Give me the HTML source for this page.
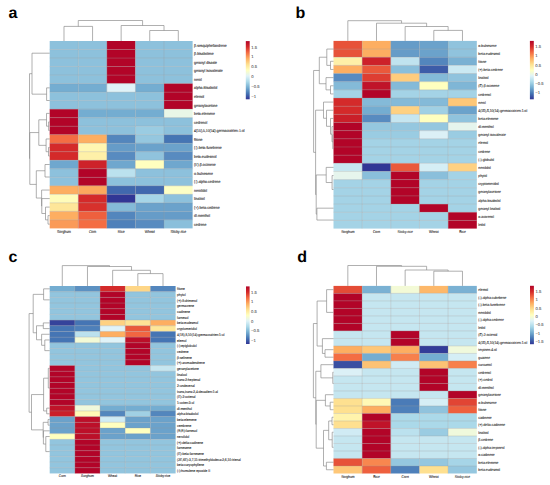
<!DOCTYPE html>
<html><head><meta charset="utf-8"><style>
html,body{margin:0;padding:0;background:#fff;}
svg{display:block;font-family:"Liberation Sans",sans-serif;}
</style></head><body>
<svg width="550" height="485" viewBox="0 0 550 485" font-family="'Liberation Sans', sans-serif" text-rendering="geometricPrecision">
<rect width="550" height="485" fill="#fff"/>
<rect x="49.70" y="41.00" width="28.58" height="8.52" fill="#8DC1DC"/>
<rect x="78.28" y="41.00" width="28.58" height="8.52" fill="#8DC1DC"/>
<rect x="106.86" y="41.00" width="28.58" height="8.52" fill="#B20428"/>
<rect x="135.44" y="41.00" width="28.58" height="8.52" fill="#8DC1DC"/>
<rect x="164.02" y="41.00" width="28.58" height="8.52" fill="#8DC1DC"/>
<rect x="49.70" y="49.52" width="28.58" height="8.52" fill="#8DC1DC"/>
<rect x="78.28" y="49.52" width="28.58" height="8.52" fill="#8DC1DC"/>
<rect x="106.86" y="49.52" width="28.58" height="8.52" fill="#B20428"/>
<rect x="135.44" y="49.52" width="28.58" height="8.52" fill="#8DC1DC"/>
<rect x="164.02" y="49.52" width="28.58" height="8.52" fill="#8DC1DC"/>
<rect x="49.70" y="58.04" width="28.58" height="8.52" fill="#8DC1DC"/>
<rect x="78.28" y="58.04" width="28.58" height="8.52" fill="#8DC1DC"/>
<rect x="106.86" y="58.04" width="28.58" height="8.52" fill="#B20428"/>
<rect x="135.44" y="58.04" width="28.58" height="8.52" fill="#8DC1DC"/>
<rect x="164.02" y="58.04" width="28.58" height="8.52" fill="#8DC1DC"/>
<rect x="49.70" y="66.55" width="28.58" height="8.52" fill="#8DC1DC"/>
<rect x="78.28" y="66.55" width="28.58" height="8.52" fill="#8DC1DC"/>
<rect x="106.86" y="66.55" width="28.58" height="8.52" fill="#B20428"/>
<rect x="135.44" y="66.55" width="28.58" height="8.52" fill="#8DC1DC"/>
<rect x="164.02" y="66.55" width="28.58" height="8.52" fill="#8DC1DC"/>
<rect x="49.70" y="75.07" width="28.58" height="8.52" fill="#8DC1DC"/>
<rect x="78.28" y="75.07" width="28.58" height="8.52" fill="#8DC1DC"/>
<rect x="106.86" y="75.07" width="28.58" height="8.52" fill="#B20428"/>
<rect x="135.44" y="75.07" width="28.58" height="8.52" fill="#8DC1DC"/>
<rect x="164.02" y="75.07" width="28.58" height="8.52" fill="#8DC1DC"/>
<rect x="49.70" y="83.59" width="28.58" height="8.52" fill="#74ADD1"/>
<rect x="78.28" y="83.59" width="28.58" height="8.52" fill="#74ADD1"/>
<rect x="106.86" y="83.59" width="28.58" height="8.52" fill="#E0F3F8"/>
<rect x="135.44" y="83.59" width="28.58" height="8.52" fill="#74ADD1"/>
<rect x="164.02" y="83.59" width="28.58" height="8.52" fill="#B20428"/>
<rect x="49.70" y="92.11" width="28.58" height="8.52" fill="#8DC1DC"/>
<rect x="78.28" y="92.11" width="28.58" height="8.52" fill="#8DC1DC"/>
<rect x="106.86" y="92.11" width="28.58" height="8.52" fill="#8DC1DC"/>
<rect x="135.44" y="92.11" width="28.58" height="8.52" fill="#8DC1DC"/>
<rect x="164.02" y="92.11" width="28.58" height="8.52" fill="#B20428"/>
<rect x="49.70" y="100.63" width="28.58" height="8.52" fill="#8DC1DC"/>
<rect x="78.28" y="100.63" width="28.58" height="8.52" fill="#8DC1DC"/>
<rect x="106.86" y="100.63" width="28.58" height="8.52" fill="#8DC1DC"/>
<rect x="135.44" y="100.63" width="28.58" height="8.52" fill="#8DC1DC"/>
<rect x="164.02" y="100.63" width="28.58" height="8.52" fill="#B20428"/>
<rect x="49.70" y="109.14" width="28.58" height="8.52" fill="#B20428"/>
<rect x="78.28" y="109.14" width="28.58" height="8.52" fill="#74ADD1"/>
<rect x="106.86" y="109.14" width="28.58" height="8.52" fill="#74ADD1"/>
<rect x="135.44" y="109.14" width="28.58" height="8.52" fill="#74ADD1"/>
<rect x="164.02" y="109.14" width="28.58" height="8.52" fill="#E9F7E7"/>
<rect x="49.70" y="117.66" width="28.58" height="8.52" fill="#B20428"/>
<rect x="78.28" y="117.66" width="28.58" height="8.52" fill="#8DC1DC"/>
<rect x="106.86" y="117.66" width="28.58" height="8.52" fill="#8DC1DC"/>
<rect x="135.44" y="117.66" width="28.58" height="8.52" fill="#8DC1DC"/>
<rect x="164.02" y="117.66" width="28.58" height="8.52" fill="#8DC1DC"/>
<rect x="49.70" y="126.18" width="28.58" height="8.52" fill="#B20428"/>
<rect x="78.28" y="126.18" width="28.58" height="8.52" fill="#8DC1DC"/>
<rect x="106.86" y="126.18" width="28.58" height="8.52" fill="#8DC1DC"/>
<rect x="135.44" y="126.18" width="28.58" height="8.52" fill="#9ACCE2"/>
<rect x="164.02" y="126.18" width="28.58" height="8.52" fill="#8DC1DC"/>
<rect x="49.70" y="134.70" width="28.58" height="8.52" fill="#F46D43"/>
<rect x="78.28" y="134.70" width="28.58" height="8.52" fill="#FDAE61"/>
<rect x="106.86" y="134.70" width="28.58" height="8.52" fill="#5386BD"/>
<rect x="135.44" y="134.70" width="28.58" height="8.52" fill="#95C7DF"/>
<rect x="164.02" y="134.70" width="28.58" height="8.52" fill="#4575B4"/>
<rect x="49.70" y="143.22" width="28.58" height="8.52" fill="#D42A2A"/>
<rect x="78.28" y="143.22" width="28.58" height="8.52" fill="#FFF6B1"/>
<rect x="106.86" y="143.22" width="28.58" height="8.52" fill="#669CC8"/>
<rect x="135.44" y="143.22" width="28.58" height="8.52" fill="#6BA2CB"/>
<rect x="164.02" y="143.22" width="28.58" height="8.52" fill="#6BA2CB"/>
<rect x="49.70" y="151.73" width="28.58" height="8.52" fill="#D42A2A"/>
<rect x="78.28" y="151.73" width="28.58" height="8.52" fill="#FEF0A8"/>
<rect x="106.86" y="151.73" width="28.58" height="8.52" fill="#588BC0"/>
<rect x="135.44" y="151.73" width="28.58" height="8.52" fill="#90C3DD"/>
<rect x="164.02" y="151.73" width="28.58" height="8.52" fill="#588BC0"/>
<rect x="49.70" y="160.25" width="28.58" height="8.52" fill="#6FA7CE"/>
<rect x="78.28" y="160.25" width="28.58" height="8.52" fill="#CD222A"/>
<rect x="106.86" y="160.25" width="28.58" height="8.52" fill="#6FA7CE"/>
<rect x="135.44" y="160.25" width="28.58" height="8.52" fill="#FFFFBF"/>
<rect x="164.02" y="160.25" width="28.58" height="8.52" fill="#6FA7CE"/>
<rect x="49.70" y="168.77" width="28.58" height="8.52" fill="#8DC1DC"/>
<rect x="78.28" y="168.77" width="28.58" height="8.52" fill="#B20428"/>
<rect x="106.86" y="168.77" width="28.58" height="8.52" fill="#BBE1EE"/>
<rect x="135.44" y="168.77" width="28.58" height="8.52" fill="#8DC1DC"/>
<rect x="164.02" y="168.77" width="28.58" height="8.52" fill="#8DC1DC"/>
<rect x="49.70" y="177.29" width="28.58" height="8.52" fill="#8DC1DC"/>
<rect x="78.28" y="177.29" width="28.58" height="8.52" fill="#B20428"/>
<rect x="106.86" y="177.29" width="28.58" height="8.52" fill="#8DC1DC"/>
<rect x="135.44" y="177.29" width="28.58" height="8.52" fill="#8DC1DC"/>
<rect x="164.02" y="177.29" width="28.58" height="8.52" fill="#8DC1DC"/>
<rect x="49.70" y="185.81" width="28.58" height="8.52" fill="#FDAE61"/>
<rect x="78.28" y="185.81" width="28.58" height="8.52" fill="#FCA85E"/>
<rect x="106.86" y="185.81" width="28.58" height="8.52" fill="#4168AE"/>
<rect x="135.44" y="185.81" width="28.58" height="8.52" fill="#4168AE"/>
<rect x="164.02" y="185.81" width="28.58" height="8.52" fill="#FCFEC5"/>
<rect x="49.70" y="194.32" width="28.58" height="8.52" fill="#FFFCBA"/>
<rect x="78.28" y="194.32" width="28.58" height="8.52" fill="#D42A2A"/>
<rect x="106.86" y="194.32" width="28.58" height="8.52" fill="#313695"/>
<rect x="135.44" y="194.32" width="28.58" height="8.52" fill="#A6D5E7"/>
<rect x="164.02" y="194.32" width="28.58" height="8.52" fill="#8DC1DC"/>
<rect x="49.70" y="202.84" width="28.58" height="8.52" fill="#FEE699"/>
<rect x="78.28" y="202.84" width="28.58" height="8.52" fill="#D7312C"/>
<rect x="106.86" y="202.84" width="28.58" height="8.52" fill="#84BAD8"/>
<rect x="135.44" y="202.84" width="28.58" height="8.52" fill="#6BA2CB"/>
<rect x="164.02" y="202.84" width="28.58" height="8.52" fill="#6BA2CB"/>
<rect x="49.70" y="211.36" width="28.58" height="8.52" fill="#FDAE61"/>
<rect x="78.28" y="211.36" width="28.58" height="8.52" fill="#EE603E"/>
<rect x="106.86" y="211.36" width="28.58" height="8.52" fill="#5386BD"/>
<rect x="135.44" y="211.36" width="28.58" height="8.52" fill="#669CC8"/>
<rect x="164.02" y="211.36" width="28.58" height="8.52" fill="#669CC8"/>
<rect x="49.70" y="219.88" width="28.58" height="8.52" fill="#FA9A58"/>
<rect x="78.28" y="219.88" width="28.58" height="8.52" fill="#F46D43"/>
<rect x="106.86" y="219.88" width="28.58" height="8.52" fill="#4E80BA"/>
<rect x="135.44" y="219.88" width="28.58" height="8.52" fill="#588BC0"/>
<rect x="164.02" y="219.88" width="28.58" height="8.52" fill="#8ABFDB"/>
<line x1="49.70" y1="49.52" x2="192.60" y2="49.52" stroke="#9a9a9a" stroke-width="0.3"/>
<line x1="49.70" y1="58.04" x2="192.60" y2="58.04" stroke="#9a9a9a" stroke-width="0.3"/>
<line x1="49.70" y1="66.55" x2="192.60" y2="66.55" stroke="#9a9a9a" stroke-width="0.3"/>
<line x1="49.70" y1="75.07" x2="192.60" y2="75.07" stroke="#9a9a9a" stroke-width="0.3"/>
<line x1="49.70" y1="83.59" x2="192.60" y2="83.59" stroke="#9a9a9a" stroke-width="0.3"/>
<line x1="49.70" y1="92.11" x2="192.60" y2="92.11" stroke="#9a9a9a" stroke-width="0.3"/>
<line x1="49.70" y1="100.63" x2="192.60" y2="100.63" stroke="#9a9a9a" stroke-width="0.3"/>
<line x1="49.70" y1="109.14" x2="192.60" y2="109.14" stroke="#9a9a9a" stroke-width="0.3"/>
<line x1="49.70" y1="117.66" x2="192.60" y2="117.66" stroke="#9a9a9a" stroke-width="0.3"/>
<line x1="49.70" y1="126.18" x2="192.60" y2="126.18" stroke="#9a9a9a" stroke-width="0.3"/>
<line x1="49.70" y1="134.70" x2="192.60" y2="134.70" stroke="#9a9a9a" stroke-width="0.3"/>
<line x1="49.70" y1="143.22" x2="192.60" y2="143.22" stroke="#9a9a9a" stroke-width="0.3"/>
<line x1="49.70" y1="151.73" x2="192.60" y2="151.73" stroke="#9a9a9a" stroke-width="0.3"/>
<line x1="49.70" y1="160.25" x2="192.60" y2="160.25" stroke="#9a9a9a" stroke-width="0.3"/>
<line x1="49.70" y1="168.77" x2="192.60" y2="168.77" stroke="#9a9a9a" stroke-width="0.3"/>
<line x1="49.70" y1="177.29" x2="192.60" y2="177.29" stroke="#9a9a9a" stroke-width="0.3"/>
<line x1="49.70" y1="185.81" x2="192.60" y2="185.81" stroke="#9a9a9a" stroke-width="0.3"/>
<line x1="49.70" y1="194.32" x2="192.60" y2="194.32" stroke="#9a9a9a" stroke-width="0.3"/>
<line x1="49.70" y1="202.84" x2="192.60" y2="202.84" stroke="#9a9a9a" stroke-width="0.3"/>
<line x1="49.70" y1="211.36" x2="192.60" y2="211.36" stroke="#9a9a9a" stroke-width="0.3"/>
<line x1="49.70" y1="219.88" x2="192.60" y2="219.88" stroke="#9a9a9a" stroke-width="0.3"/>
<line x1="78.28" y1="41.00" x2="78.28" y2="228.40" stroke="#9a9a9a" stroke-width="0.3"/>
<line x1="106.86" y1="41.00" x2="106.86" y2="228.40" stroke="#9a9a9a" stroke-width="0.3"/>
<line x1="135.44" y1="41.00" x2="135.44" y2="228.40" stroke="#9a9a9a" stroke-width="0.3"/>
<line x1="164.02" y1="41.00" x2="164.02" y2="228.40" stroke="#9a9a9a" stroke-width="0.3"/>
<text transform="translate(194.10,46.89) scale(0.85,1)" font-size="4.000" text-anchor="start" font-weight="normal" fill="#2e2e2e" stroke="#2e2e2e" stroke-width="0.11">β-sesquiphellandrene</text>
<text transform="translate(194.10,55.41) scale(0.85,1)" font-size="4.000" text-anchor="start" font-weight="normal" fill="#2e2e2e" stroke="#2e2e2e" stroke-width="0.11">β-bisabolene</text>
<text transform="translate(194.10,63.92) scale(0.85,1)" font-size="4.000" text-anchor="start" font-weight="normal" fill="#2e2e2e" stroke="#2e2e2e" stroke-width="0.11">geranyl disaste</text>
<text transform="translate(194.10,72.44) scale(0.85,1)" font-size="4.000" text-anchor="start" font-weight="normal" fill="#2e2e2e" stroke="#2e2e2e" stroke-width="0.11">geranyl isovalerate</text>
<text transform="translate(194.10,80.96) scale(0.85,1)" font-size="4.000" text-anchor="start" font-weight="normal" fill="#2e2e2e" stroke="#2e2e2e" stroke-width="0.11">nerol</text>
<text transform="translate(194.10,89.48) scale(0.85,1)" font-size="4.000" text-anchor="start" font-weight="normal" fill="#2e2e2e" stroke="#2e2e2e" stroke-width="0.11">alpha-Bisabolol</text>
<text transform="translate(194.10,98.00) scale(0.85,1)" font-size="4.000" text-anchor="start" font-weight="normal" fill="#2e2e2e" stroke="#2e2e2e" stroke-width="0.11">elemol</text>
<text transform="translate(194.10,106.51) scale(0.85,1)" font-size="4.000" text-anchor="start" font-weight="normal" fill="#2e2e2e" stroke="#2e2e2e" stroke-width="0.11">geranylacetone</text>
<text transform="translate(194.10,115.03) scale(0.85,1)" font-size="4.000" text-anchor="start" font-weight="normal" fill="#2e2e2e" stroke="#2e2e2e" stroke-width="0.11">beta-elemene</text>
<text transform="translate(194.10,123.55) scale(0.85,1)" font-size="4.000" text-anchor="start" font-weight="normal" fill="#2e2e2e" stroke="#2e2e2e" stroke-width="0.11">cedrenol</text>
<text transform="translate(194.10,132.07) scale(0.85,1)" font-size="4.000" text-anchor="start" font-weight="normal" fill="#2e2e2e" stroke="#2e2e2e" stroke-width="0.11">4(15),5,10(14)-germacratrien-1-ol</text>
<text transform="translate(194.10,140.58) scale(0.85,1)" font-size="4.000" text-anchor="start" font-weight="normal" fill="#2e2e2e" stroke="#2e2e2e" stroke-width="0.11">fitone</text>
<text transform="translate(194.10,149.10) scale(0.85,1)" font-size="4.000" text-anchor="start" font-weight="normal" fill="#2e2e2e" stroke="#2e2e2e" stroke-width="0.11">(-)-beta-funebrene</text>
<text transform="translate(194.10,157.62) scale(0.85,1)" font-size="4.000" text-anchor="start" font-weight="normal" fill="#2e2e2e" stroke="#2e2e2e" stroke-width="0.11">beta-eudesmol</text>
<text transform="translate(194.10,166.14) scale(0.85,1)" font-size="4.000" text-anchor="start" font-weight="normal" fill="#2e2e2e" stroke="#2e2e2e" stroke-width="0.11">(E)-β-ocimene</text>
<text transform="translate(194.10,174.66) scale(0.85,1)" font-size="4.000" text-anchor="start" font-weight="normal" fill="#2e2e2e" stroke="#2e2e2e" stroke-width="0.11">α-bulnesene</text>
<text transform="translate(194.10,183.18) scale(0.85,1)" font-size="4.000" text-anchor="start" font-weight="normal" fill="#2e2e2e" stroke="#2e2e2e" stroke-width="0.11">(-)-alpha-cedrene</text>
<text transform="translate(194.10,191.69) scale(0.85,1)" font-size="4.000" text-anchor="start" font-weight="normal" fill="#2e2e2e" stroke="#2e2e2e" stroke-width="0.11">nerolidol</text>
<text transform="translate(194.10,200.21) scale(0.85,1)" font-size="4.000" text-anchor="start" font-weight="normal" fill="#2e2e2e" stroke="#2e2e2e" stroke-width="0.11">linalool</text>
<text transform="translate(194.10,208.73) scale(0.85,1)" font-size="4.000" text-anchor="start" font-weight="normal" fill="#2e2e2e" stroke="#2e2e2e" stroke-width="0.11">(+)-beta-cedrene</text>
<text transform="translate(194.10,217.25) scale(0.85,1)" font-size="4.000" text-anchor="start" font-weight="normal" fill="#2e2e2e" stroke="#2e2e2e" stroke-width="0.11">dl-menthol</text>
<text transform="translate(194.10,225.76) scale(0.85,1)" font-size="4.000" text-anchor="start" font-weight="normal" fill="#2e2e2e" stroke="#2e2e2e" stroke-width="0.11">cedrene</text>
<text transform="translate(63.99,232.50) scale(0.85,1)" font-size="4.000" text-anchor="middle" font-weight="normal" fill="#2e2e2e" stroke="#2e2e2e" stroke-width="0.11">Sorghum</text>
<text transform="translate(92.57,232.50) scale(0.85,1)" font-size="4.000" text-anchor="middle" font-weight="normal" fill="#2e2e2e" stroke="#2e2e2e" stroke-width="0.11">Corn</text>
<text transform="translate(121.15,232.50) scale(0.85,1)" font-size="4.000" text-anchor="middle" font-weight="normal" fill="#2e2e2e" stroke="#2e2e2e" stroke-width="0.11">Rice</text>
<text transform="translate(149.73,232.50) scale(0.85,1)" font-size="4.000" text-anchor="middle" font-weight="normal" fill="#2e2e2e" stroke="#2e2e2e" stroke-width="0.11">Wheat</text>
<text transform="translate(178.31,232.50) scale(0.85,1)" font-size="4.000" text-anchor="middle" font-weight="normal" fill="#2e2e2e" stroke="#2e2e2e" stroke-width="0.11">Sticky-rice</text>
<defs><linearGradient id="ga" x1="0" y1="0" x2="0" y2="1"><stop offset="0.00" stop-color="#B20428"/><stop offset="0.10" stop-color="#D42A2A"/><stop offset="0.20" stop-color="#F46D43"/><stop offset="0.30" stop-color="#FDAE61"/><stop offset="0.40" stop-color="#FEE090"/><stop offset="0.50" stop-color="#FFFFBF"/><stop offset="0.60" stop-color="#E0F3F8"/><stop offset="0.70" stop-color="#ABD9E9"/><stop offset="0.80" stop-color="#74ADD1"/><stop offset="0.90" stop-color="#4575B4"/><stop offset="1.00" stop-color="#313695"/></linearGradient></defs>
<rect x="245.8" y="41.1" width="3.9" height="58.199999999999996" fill="url(#ga)"/>
<text x="251.20" y="48.67" font-size="4.2" text-anchor="start" font-weight="normal" fill="#4a4a4a" stroke="#4a4a4a" stroke-width="0.06">1.5</text>
<text x="251.20" y="58.49" font-size="4.2" text-anchor="start" font-weight="normal" fill="#4a4a4a" stroke="#4a4a4a" stroke-width="0.06">1</text>
<text x="251.20" y="68.31" font-size="4.2" text-anchor="start" font-weight="normal" fill="#4a4a4a" stroke="#4a4a4a" stroke-width="0.06">0.5</text>
<text x="251.20" y="78.13" font-size="4.2" text-anchor="start" font-weight="normal" fill="#4a4a4a" stroke="#4a4a4a" stroke-width="0.06">0</text>
<text x="251.20" y="87.95" font-size="4.2" text-anchor="start" font-weight="normal" fill="#4a4a4a" stroke="#4a4a4a" stroke-width="0.06">−0.5</text>
<text x="251.20" y="97.76" font-size="4.2" text-anchor="start" font-weight="normal" fill="#4a4a4a" stroke="#4a4a4a" stroke-width="0.06">−1</text>
<text x="8.40" y="18.10" font-size="16" text-anchor="start" font-weight="bold" fill="#000">a</text>
<line x1="63.99" y1="26.40" x2="63.99" y2="41.00" stroke="#858585" stroke-width="0.65"/>
<line x1="92.57" y1="26.40" x2="92.57" y2="41.00" stroke="#858585" stroke-width="0.65"/>
<line x1="63.99" y1="26.40" x2="92.57" y2="26.40" stroke="#858585" stroke-width="0.65"/>
<line x1="149.73" y1="30.50" x2="149.73" y2="41.00" stroke="#858585" stroke-width="0.65"/>
<line x1="178.31" y1="30.50" x2="178.31" y2="41.00" stroke="#858585" stroke-width="0.65"/>
<line x1="149.73" y1="30.50" x2="178.31" y2="30.50" stroke="#858585" stroke-width="0.65"/>
<line x1="121.15" y1="25.50" x2="121.15" y2="41.00" stroke="#858585" stroke-width="0.65"/>
<line x1="164.02" y1="25.50" x2="164.02" y2="30.50" stroke="#858585" stroke-width="0.65"/>
<line x1="121.15" y1="25.50" x2="164.02" y2="25.50" stroke="#858585" stroke-width="0.65"/>
<line x1="78.28" y1="20.50" x2="78.28" y2="26.40" stroke="#858585" stroke-width="0.65"/>
<line x1="142.59" y1="20.50" x2="142.59" y2="25.50" stroke="#858585" stroke-width="0.65"/>
<line x1="78.28" y1="20.50" x2="142.59" y2="20.50" stroke="#858585" stroke-width="0.65"/>
<line x1="46.60" y1="87.85" x2="49.70" y2="87.85" stroke="#858585" stroke-width="0.65"/>
<line x1="46.60" y1="100.50" x2="49.70" y2="100.50" stroke="#858585" stroke-width="0.65"/>
<line x1="46.60" y1="87.85" x2="46.60" y2="100.50" stroke="#858585" stroke-width="0.65"/>
<line x1="32.00" y1="53.20" x2="49.70" y2="53.20" stroke="#858585" stroke-width="0.65"/>
<line x1="32.00" y1="94.17" x2="46.60" y2="94.17" stroke="#858585" stroke-width="0.65"/>
<line x1="32.00" y1="53.20" x2="32.00" y2="94.17" stroke="#858585" stroke-width="0.65"/>
<line x1="48.60" y1="121.92" x2="49.70" y2="121.92" stroke="#858585" stroke-width="0.65"/>
<line x1="48.60" y1="130.44" x2="49.70" y2="130.44" stroke="#858585" stroke-width="0.65"/>
<line x1="48.60" y1="121.92" x2="48.60" y2="130.44" stroke="#858585" stroke-width="0.65"/>
<line x1="46.50" y1="113.40" x2="49.70" y2="113.40" stroke="#858585" stroke-width="0.65"/>
<line x1="46.50" y1="126.18" x2="48.60" y2="126.18" stroke="#858585" stroke-width="0.65"/>
<line x1="46.50" y1="113.40" x2="46.50" y2="126.18" stroke="#858585" stroke-width="0.65"/>
<line x1="48.50" y1="147.48" x2="49.70" y2="147.48" stroke="#858585" stroke-width="0.65"/>
<line x1="48.50" y1="155.99" x2="49.70" y2="155.99" stroke="#858585" stroke-width="0.65"/>
<line x1="48.50" y1="147.48" x2="48.50" y2="155.99" stroke="#858585" stroke-width="0.65"/>
<line x1="46.10" y1="138.96" x2="49.70" y2="138.96" stroke="#858585" stroke-width="0.65"/>
<line x1="46.10" y1="151.73" x2="48.50" y2="151.73" stroke="#858585" stroke-width="0.65"/>
<line x1="46.10" y1="138.96" x2="46.10" y2="151.73" stroke="#858585" stroke-width="0.65"/>
<line x1="38.80" y1="119.79" x2="46.50" y2="119.79" stroke="#858585" stroke-width="0.65"/>
<line x1="38.80" y1="145.35" x2="46.10" y2="145.35" stroke="#858585" stroke-width="0.65"/>
<line x1="38.80" y1="119.79" x2="38.80" y2="145.35" stroke="#858585" stroke-width="0.65"/>
<line x1="45.00" y1="164.51" x2="49.70" y2="164.51" stroke="#858585" stroke-width="0.65"/>
<line x1="45.00" y1="177.00" x2="49.70" y2="177.00" stroke="#858585" stroke-width="0.65"/>
<line x1="45.00" y1="164.51" x2="45.00" y2="177.00" stroke="#858585" stroke-width="0.65"/>
<line x1="48.00" y1="215.62" x2="49.70" y2="215.62" stroke="#858585" stroke-width="0.65"/>
<line x1="48.00" y1="224.14" x2="49.70" y2="224.14" stroke="#858585" stroke-width="0.65"/>
<line x1="48.00" y1="215.62" x2="48.00" y2="224.14" stroke="#858585" stroke-width="0.65"/>
<line x1="45.50" y1="207.10" x2="49.70" y2="207.10" stroke="#858585" stroke-width="0.65"/>
<line x1="45.50" y1="219.88" x2="48.00" y2="219.88" stroke="#858585" stroke-width="0.65"/>
<line x1="45.50" y1="207.10" x2="45.50" y2="219.88" stroke="#858585" stroke-width="0.65"/>
<line x1="41.80" y1="198.58" x2="49.70" y2="198.58" stroke="#858585" stroke-width="0.65"/>
<line x1="41.80" y1="213.49" x2="45.50" y2="213.49" stroke="#858585" stroke-width="0.65"/>
<line x1="41.80" y1="198.58" x2="41.80" y2="213.49" stroke="#858585" stroke-width="0.65"/>
<line x1="41.60" y1="190.06" x2="49.70" y2="190.06" stroke="#858585" stroke-width="0.65"/>
<line x1="41.60" y1="206.04" x2="41.80" y2="206.04" stroke="#858585" stroke-width="0.65"/>
<line x1="41.60" y1="190.06" x2="41.60" y2="206.04" stroke="#858585" stroke-width="0.65"/>
<line x1="36.30" y1="170.76" x2="45.00" y2="170.76" stroke="#858585" stroke-width="0.65"/>
<line x1="36.30" y1="198.05" x2="41.60" y2="198.05" stroke="#858585" stroke-width="0.65"/>
<line x1="36.30" y1="170.76" x2="36.30" y2="198.05" stroke="#858585" stroke-width="0.65"/>
<line x1="29.80" y1="132.57" x2="38.80" y2="132.57" stroke="#858585" stroke-width="0.65"/>
<line x1="29.80" y1="184.40" x2="36.30" y2="184.40" stroke="#858585" stroke-width="0.65"/>
<line x1="29.80" y1="132.57" x2="29.80" y2="184.40" stroke="#858585" stroke-width="0.65"/>
<line x1="29.50" y1="73.69" x2="32.00" y2="73.69" stroke="#858585" stroke-width="0.65"/>
<line x1="29.50" y1="158.49" x2="29.80" y2="158.49" stroke="#858585" stroke-width="0.65"/>
<line x1="29.50" y1="73.69" x2="29.50" y2="158.49" stroke="#858585" stroke-width="0.65"/>
<rect x="333.50" y="40.90" width="28.66" height="8.16" fill="#E75239"/>
<rect x="362.16" y="40.90" width="28.66" height="8.16" fill="#FDAE61"/>
<rect x="390.82" y="40.90" width="28.66" height="8.16" fill="#669CC8"/>
<rect x="419.48" y="40.90" width="28.66" height="8.16" fill="#6BA2CB"/>
<rect x="448.14" y="40.90" width="28.66" height="8.16" fill="#90C3DD"/>
<rect x="333.50" y="49.06" width="28.66" height="8.16" fill="#E75239"/>
<rect x="362.16" y="49.06" width="28.66" height="8.16" fill="#FDAE61"/>
<rect x="390.82" y="49.06" width="28.66" height="8.16" fill="#669CC8"/>
<rect x="419.48" y="49.06" width="28.66" height="8.16" fill="#6BA2CB"/>
<rect x="448.14" y="49.06" width="28.66" height="8.16" fill="#90C3DD"/>
<rect x="333.50" y="57.22" width="28.66" height="8.16" fill="#FEF0A8"/>
<rect x="362.16" y="57.22" width="28.66" height="8.16" fill="#CD222A"/>
<rect x="390.82" y="57.22" width="28.66" height="8.16" fill="#C0E3EF"/>
<rect x="419.48" y="57.22" width="28.66" height="8.16" fill="#5386BD"/>
<rect x="448.14" y="57.22" width="28.66" height="8.16" fill="#7AB1D3"/>
<rect x="333.50" y="65.38" width="28.66" height="8.16" fill="#FDAE61"/>
<rect x="362.16" y="65.38" width="28.66" height="8.16" fill="#EA593B"/>
<rect x="390.82" y="65.38" width="28.66" height="8.16" fill="#8ABFDB"/>
<rect x="419.48" y="65.38" width="28.66" height="8.16" fill="#3D5CA8"/>
<rect x="448.14" y="65.38" width="28.66" height="8.16" fill="#CBE9F2"/>
<rect x="333.50" y="73.54" width="28.66" height="8.16" fill="#588BC0"/>
<rect x="362.16" y="73.54" width="28.66" height="8.16" fill="#DE3E32"/>
<rect x="390.82" y="73.54" width="28.66" height="8.16" fill="#FECC7D"/>
<rect x="419.48" y="73.54" width="28.66" height="8.16" fill="#84BAD8"/>
<rect x="448.14" y="73.54" width="28.66" height="8.16" fill="#90C3DD"/>
<rect x="333.50" y="81.70" width="28.66" height="8.16" fill="#84BAD8"/>
<rect x="362.16" y="81.70" width="28.66" height="8.16" fill="#C01329"/>
<rect x="390.82" y="81.70" width="28.66" height="8.16" fill="#84BAD8"/>
<rect x="419.48" y="81.70" width="28.66" height="8.16" fill="#FFFFBF"/>
<rect x="448.14" y="81.70" width="28.66" height="8.16" fill="#7FB6D6"/>
<rect x="333.50" y="89.86" width="28.66" height="8.16" fill="#A4D3E6"/>
<rect x="362.16" y="89.86" width="28.66" height="8.16" fill="#B20428"/>
<rect x="390.82" y="89.86" width="28.66" height="8.16" fill="#A4D3E6"/>
<rect x="419.48" y="89.86" width="28.66" height="8.16" fill="#A4D3E6"/>
<rect x="448.14" y="89.86" width="28.66" height="8.16" fill="#A4D3E6"/>
<rect x="333.50" y="98.02" width="28.66" height="8.16" fill="#D42A2A"/>
<rect x="362.16" y="98.02" width="28.66" height="8.16" fill="#84BAD8"/>
<rect x="390.82" y="98.02" width="28.66" height="8.16" fill="#84BAD8"/>
<rect x="419.48" y="98.02" width="28.66" height="8.16" fill="#84BAD8"/>
<rect x="448.14" y="98.02" width="28.66" height="8.16" fill="#FEC778"/>
<rect x="333.50" y="106.18" width="28.66" height="8.16" fill="#D42A2A"/>
<rect x="362.16" y="106.18" width="28.66" height="8.16" fill="#74ADD1"/>
<rect x="390.82" y="106.18" width="28.66" height="8.16" fill="#FED182"/>
<rect x="419.48" y="106.18" width="28.66" height="8.16" fill="#A0D0E4"/>
<rect x="448.14" y="106.18" width="28.66" height="8.16" fill="#6BA2CB"/>
<rect x="333.50" y="114.34" width="28.66" height="8.16" fill="#CA1F29"/>
<rect x="362.16" y="114.34" width="28.66" height="8.16" fill="#588BC0"/>
<rect x="390.82" y="114.34" width="28.66" height="8.16" fill="#C6E6F0"/>
<rect x="419.48" y="114.34" width="28.66" height="8.16" fill="#FFFFBF"/>
<rect x="448.14" y="114.34" width="28.66" height="8.16" fill="#90C3DD"/>
<rect x="333.50" y="122.50" width="28.66" height="8.16" fill="#B20428"/>
<rect x="362.16" y="122.50" width="28.66" height="8.16" fill="#95C7DF"/>
<rect x="390.82" y="122.50" width="28.66" height="8.16" fill="#95C7DF"/>
<rect x="419.48" y="122.50" width="28.66" height="8.16" fill="#95C7DF"/>
<rect x="448.14" y="122.50" width="28.66" height="8.16" fill="#E6F5ED"/>
<rect x="333.50" y="130.66" width="28.66" height="8.16" fill="#B20428"/>
<rect x="362.16" y="130.66" width="28.66" height="8.16" fill="#9ACCE2"/>
<rect x="390.82" y="130.66" width="28.66" height="8.16" fill="#9ACCE2"/>
<rect x="419.48" y="130.66" width="28.66" height="8.16" fill="#DBF0F6"/>
<rect x="448.14" y="130.66" width="28.66" height="8.16" fill="#9ACCE2"/>
<rect x="333.50" y="138.82" width="28.66" height="8.16" fill="#B20428"/>
<rect x="362.16" y="138.82" width="28.66" height="8.16" fill="#A4D3E6"/>
<rect x="390.82" y="138.82" width="28.66" height="8.16" fill="#A4D3E6"/>
<rect x="419.48" y="138.82" width="28.66" height="8.16" fill="#A4D3E6"/>
<rect x="448.14" y="138.82" width="28.66" height="8.16" fill="#A4D3E6"/>
<rect x="333.50" y="146.98" width="28.66" height="8.16" fill="#B20428"/>
<rect x="362.16" y="146.98" width="28.66" height="8.16" fill="#A4D3E6"/>
<rect x="390.82" y="146.98" width="28.66" height="8.16" fill="#A4D3E6"/>
<rect x="419.48" y="146.98" width="28.66" height="8.16" fill="#A4D3E6"/>
<rect x="448.14" y="146.98" width="28.66" height="8.16" fill="#A4D3E6"/>
<rect x="333.50" y="155.14" width="28.66" height="8.16" fill="#B20428"/>
<rect x="362.16" y="155.14" width="28.66" height="8.16" fill="#A4D3E6"/>
<rect x="390.82" y="155.14" width="28.66" height="8.16" fill="#A4D3E6"/>
<rect x="419.48" y="155.14" width="28.66" height="8.16" fill="#A4D3E6"/>
<rect x="448.14" y="155.14" width="28.66" height="8.16" fill="#A4D3E6"/>
<rect x="333.50" y="163.30" width="28.66" height="8.16" fill="#C6E6F0"/>
<rect x="362.16" y="163.30" width="28.66" height="8.16" fill="#313695"/>
<rect x="390.82" y="163.30" width="28.66" height="8.16" fill="#EA593B"/>
<rect x="419.48" y="163.30" width="28.66" height="8.16" fill="#D5EEF5"/>
<rect x="448.14" y="163.30" width="28.66" height="8.16" fill="#FED182"/>
<rect x="333.50" y="171.46" width="28.66" height="8.16" fill="#E6F5ED"/>
<rect x="362.16" y="171.46" width="28.66" height="8.16" fill="#8ABFDB"/>
<rect x="390.82" y="171.46" width="28.66" height="8.16" fill="#B20428"/>
<rect x="419.48" y="171.46" width="28.66" height="8.16" fill="#8ABFDB"/>
<rect x="448.14" y="171.46" width="28.66" height="8.16" fill="#A4D3E6"/>
<rect x="333.50" y="179.62" width="28.66" height="8.16" fill="#A4D3E6"/>
<rect x="362.16" y="179.62" width="28.66" height="8.16" fill="#A4D3E6"/>
<rect x="390.82" y="179.62" width="28.66" height="8.16" fill="#B20428"/>
<rect x="419.48" y="179.62" width="28.66" height="8.16" fill="#A4D3E6"/>
<rect x="448.14" y="179.62" width="28.66" height="8.16" fill="#A4D3E6"/>
<rect x="333.50" y="187.78" width="28.66" height="8.16" fill="#A4D3E6"/>
<rect x="362.16" y="187.78" width="28.66" height="8.16" fill="#A4D3E6"/>
<rect x="390.82" y="187.78" width="28.66" height="8.16" fill="#B20428"/>
<rect x="419.48" y="187.78" width="28.66" height="8.16" fill="#A4D3E6"/>
<rect x="448.14" y="187.78" width="28.66" height="8.16" fill="#A4D3E6"/>
<rect x="333.50" y="195.94" width="28.66" height="8.16" fill="#A4D3E6"/>
<rect x="362.16" y="195.94" width="28.66" height="8.16" fill="#A4D3E6"/>
<rect x="390.82" y="195.94" width="28.66" height="8.16" fill="#B20428"/>
<rect x="419.48" y="195.94" width="28.66" height="8.16" fill="#A4D3E6"/>
<rect x="448.14" y="195.94" width="28.66" height="8.16" fill="#A4D3E6"/>
<rect x="333.50" y="204.10" width="28.66" height="8.16" fill="#A4D3E6"/>
<rect x="362.16" y="204.10" width="28.66" height="8.16" fill="#A4D3E6"/>
<rect x="390.82" y="204.10" width="28.66" height="8.16" fill="#A4D3E6"/>
<rect x="419.48" y="204.10" width="28.66" height="8.16" fill="#B20428"/>
<rect x="448.14" y="204.10" width="28.66" height="8.16" fill="#A4D3E6"/>
<rect x="333.50" y="212.26" width="28.66" height="8.16" fill="#A4D3E6"/>
<rect x="362.16" y="212.26" width="28.66" height="8.16" fill="#A4D3E6"/>
<rect x="390.82" y="212.26" width="28.66" height="8.16" fill="#A4D3E6"/>
<rect x="419.48" y="212.26" width="28.66" height="8.16" fill="#A4D3E6"/>
<rect x="448.14" y="212.26" width="28.66" height="8.16" fill="#B20428"/>
<rect x="333.50" y="220.42" width="28.66" height="8.16" fill="#A4D3E6"/>
<rect x="362.16" y="220.42" width="28.66" height="8.16" fill="#A4D3E6"/>
<rect x="390.82" y="220.42" width="28.66" height="8.16" fill="#A4D3E6"/>
<rect x="419.48" y="220.42" width="28.66" height="8.16" fill="#A4D3E6"/>
<rect x="448.14" y="220.42" width="28.66" height="8.16" fill="#B20428"/>
<line x1="333.50" y1="49.06" x2="476.80" y2="49.06" stroke="#9a9a9a" stroke-width="0.3"/>
<line x1="333.50" y1="57.22" x2="476.80" y2="57.22" stroke="#9a9a9a" stroke-width="0.3"/>
<line x1="333.50" y1="65.38" x2="476.80" y2="65.38" stroke="#9a9a9a" stroke-width="0.3"/>
<line x1="333.50" y1="73.54" x2="476.80" y2="73.54" stroke="#9a9a9a" stroke-width="0.3"/>
<line x1="333.50" y1="81.70" x2="476.80" y2="81.70" stroke="#9a9a9a" stroke-width="0.3"/>
<line x1="333.50" y1="89.86" x2="476.80" y2="89.86" stroke="#9a9a9a" stroke-width="0.3"/>
<line x1="333.50" y1="98.02" x2="476.80" y2="98.02" stroke="#9a9a9a" stroke-width="0.3"/>
<line x1="333.50" y1="106.18" x2="476.80" y2="106.18" stroke="#9a9a9a" stroke-width="0.3"/>
<line x1="333.50" y1="114.34" x2="476.80" y2="114.34" stroke="#9a9a9a" stroke-width="0.3"/>
<line x1="333.50" y1="122.50" x2="476.80" y2="122.50" stroke="#9a9a9a" stroke-width="0.3"/>
<line x1="333.50" y1="130.66" x2="476.80" y2="130.66" stroke="#9a9a9a" stroke-width="0.3"/>
<line x1="333.50" y1="138.82" x2="476.80" y2="138.82" stroke="#9a9a9a" stroke-width="0.3"/>
<line x1="333.50" y1="146.98" x2="476.80" y2="146.98" stroke="#9a9a9a" stroke-width="0.3"/>
<line x1="333.50" y1="155.14" x2="476.80" y2="155.14" stroke="#9a9a9a" stroke-width="0.3"/>
<line x1="333.50" y1="163.30" x2="476.80" y2="163.30" stroke="#9a9a9a" stroke-width="0.3"/>
<line x1="333.50" y1="171.46" x2="476.80" y2="171.46" stroke="#9a9a9a" stroke-width="0.3"/>
<line x1="333.50" y1="179.62" x2="476.80" y2="179.62" stroke="#9a9a9a" stroke-width="0.3"/>
<line x1="333.50" y1="187.78" x2="476.80" y2="187.78" stroke="#9a9a9a" stroke-width="0.3"/>
<line x1="333.50" y1="195.94" x2="476.80" y2="195.94" stroke="#9a9a9a" stroke-width="0.3"/>
<line x1="333.50" y1="204.10" x2="476.80" y2="204.10" stroke="#9a9a9a" stroke-width="0.3"/>
<line x1="333.50" y1="212.26" x2="476.80" y2="212.26" stroke="#9a9a9a" stroke-width="0.3"/>
<line x1="333.50" y1="220.42" x2="476.80" y2="220.42" stroke="#9a9a9a" stroke-width="0.3"/>
<line x1="362.16" y1="40.90" x2="362.16" y2="228.58" stroke="#9a9a9a" stroke-width="0.3"/>
<line x1="390.82" y1="40.90" x2="390.82" y2="228.58" stroke="#9a9a9a" stroke-width="0.3"/>
<line x1="419.48" y1="40.90" x2="419.48" y2="228.58" stroke="#9a9a9a" stroke-width="0.3"/>
<line x1="448.14" y1="40.90" x2="448.14" y2="228.58" stroke="#9a9a9a" stroke-width="0.3"/>
<text transform="translate(478.30,46.57) scale(0.85,1)" font-size="3.882" text-anchor="start" font-weight="normal" fill="#2e2e2e" stroke="#2e2e2e" stroke-width="0.11">α-bulnesene</text>
<text transform="translate(478.30,54.73) scale(0.85,1)" font-size="3.882" text-anchor="start" font-weight="normal" fill="#2e2e2e" stroke="#2e2e2e" stroke-width="0.11">beta-eudesmol</text>
<text transform="translate(478.30,62.89) scale(0.85,1)" font-size="3.882" text-anchor="start" font-weight="normal" fill="#2e2e2e" stroke="#2e2e2e" stroke-width="0.11">fitone</text>
<text transform="translate(478.30,71.05) scale(0.85,1)" font-size="3.882" text-anchor="start" font-weight="normal" fill="#2e2e2e" stroke="#2e2e2e" stroke-width="0.11">(+)-beta-cedrene</text>
<text transform="translate(478.30,79.21) scale(0.85,1)" font-size="3.882" text-anchor="start" font-weight="normal" fill="#2e2e2e" stroke="#2e2e2e" stroke-width="0.11">linalool</text>
<text transform="translate(478.30,87.37) scale(0.85,1)" font-size="3.882" text-anchor="start" font-weight="normal" fill="#2e2e2e" stroke="#2e2e2e" stroke-width="0.11">(E)-β-ocimene</text>
<text transform="translate(478.30,95.53) scale(0.85,1)" font-size="3.882" text-anchor="start" font-weight="normal" fill="#2e2e2e" stroke="#2e2e2e" stroke-width="0.11">cedrenol</text>
<text transform="translate(478.30,103.69) scale(0.85,1)" font-size="3.882" text-anchor="start" font-weight="normal" fill="#2e2e2e" stroke="#2e2e2e" stroke-width="0.11">nerol</text>
<text transform="translate(478.30,111.85) scale(0.85,1)" font-size="3.882" text-anchor="start" font-weight="normal" fill="#2e2e2e" stroke="#2e2e2e" stroke-width="0.11">4(15),5,10(14)-germacratrien-1-ol</text>
<text transform="translate(478.30,120.01) scale(0.85,1)" font-size="3.882" text-anchor="start" font-weight="normal" fill="#2e2e2e" stroke="#2e2e2e" stroke-width="0.11">beta-elemene</text>
<text transform="translate(478.30,128.17) scale(0.85,1)" font-size="3.882" text-anchor="start" font-weight="normal" fill="#2e2e2e" stroke="#2e2e2e" stroke-width="0.11">dl-menthol</text>
<text transform="translate(478.30,136.33) scale(0.85,1)" font-size="3.882" text-anchor="start" font-weight="normal" fill="#2e2e2e" stroke="#2e2e2e" stroke-width="0.11">geranyl isovalerate</text>
<text transform="translate(478.30,144.49) scale(0.85,1)" font-size="3.882" text-anchor="start" font-weight="normal" fill="#2e2e2e" stroke="#2e2e2e" stroke-width="0.11">elemol</text>
<text transform="translate(478.30,152.65) scale(0.85,1)" font-size="3.882" text-anchor="start" font-weight="normal" fill="#2e2e2e" stroke="#2e2e2e" stroke-width="0.11">cedrene</text>
<text transform="translate(478.30,160.81) scale(0.85,1)" font-size="3.882" text-anchor="start" font-weight="normal" fill="#2e2e2e" stroke="#2e2e2e" stroke-width="0.11">(-)-globulol</text>
<text transform="translate(478.30,168.97) scale(0.85,1)" font-size="3.882" text-anchor="start" font-weight="normal" fill="#2e2e2e" stroke="#2e2e2e" stroke-width="0.11">nerolidol</text>
<text transform="translate(478.30,177.13) scale(0.85,1)" font-size="3.882" text-anchor="start" font-weight="normal" fill="#2e2e2e" stroke="#2e2e2e" stroke-width="0.11">phytol</text>
<text transform="translate(478.30,185.29) scale(0.85,1)" font-size="3.882" text-anchor="start" font-weight="normal" fill="#2e2e2e" stroke="#2e2e2e" stroke-width="0.11">cryptomeridiol</text>
<text transform="translate(478.30,193.45) scale(0.85,1)" font-size="3.882" text-anchor="start" font-weight="normal" fill="#2e2e2e" stroke="#2e2e2e" stroke-width="0.11">geranylacetone</text>
<text transform="translate(478.30,201.61) scale(0.85,1)" font-size="3.882" text-anchor="start" font-weight="normal" fill="#2e2e2e" stroke="#2e2e2e" stroke-width="0.11">alpha-bisabolol</text>
<text transform="translate(478.30,209.77) scale(0.85,1)" font-size="3.882" text-anchor="start" font-weight="normal" fill="#2e2e2e" stroke="#2e2e2e" stroke-width="0.11">geranyl linalool</text>
<text transform="translate(478.30,217.93) scale(0.85,1)" font-size="3.882" text-anchor="start" font-weight="normal" fill="#2e2e2e" stroke="#2e2e2e" stroke-width="0.11">α-acorenol</text>
<text transform="translate(478.30,226.09) scale(0.85,1)" font-size="3.882" text-anchor="start" font-weight="normal" fill="#2e2e2e" stroke="#2e2e2e" stroke-width="0.11">ledol</text>
<text transform="translate(347.83,232.68) scale(0.85,1)" font-size="3.882" text-anchor="middle" font-weight="normal" fill="#2e2e2e" stroke="#2e2e2e" stroke-width="0.11">Sorghum</text>
<text transform="translate(376.49,232.68) scale(0.85,1)" font-size="3.882" text-anchor="middle" font-weight="normal" fill="#2e2e2e" stroke="#2e2e2e" stroke-width="0.11">Corn</text>
<text transform="translate(405.15,232.68) scale(0.85,1)" font-size="3.882" text-anchor="middle" font-weight="normal" fill="#2e2e2e" stroke="#2e2e2e" stroke-width="0.11">Sticky-rice</text>
<text transform="translate(433.81,232.68) scale(0.85,1)" font-size="3.882" text-anchor="middle" font-weight="normal" fill="#2e2e2e" stroke="#2e2e2e" stroke-width="0.11">Wheat</text>
<text transform="translate(462.47,232.68) scale(0.85,1)" font-size="3.882" text-anchor="middle" font-weight="normal" fill="#2e2e2e" stroke="#2e2e2e" stroke-width="0.11">Rice</text>
<defs><linearGradient id="gb" x1="0" y1="0" x2="0" y2="1"><stop offset="0.00" stop-color="#B20428"/><stop offset="0.10" stop-color="#D42A2A"/><stop offset="0.20" stop-color="#F46D43"/><stop offset="0.30" stop-color="#FDAE61"/><stop offset="0.40" stop-color="#FEE090"/><stop offset="0.50" stop-color="#FFFFBF"/><stop offset="0.60" stop-color="#E0F3F8"/><stop offset="0.70" stop-color="#ABD9E9"/><stop offset="0.80" stop-color="#74ADD1"/><stop offset="0.90" stop-color="#4575B4"/><stop offset="1.00" stop-color="#313695"/></linearGradient></defs>
<rect x="529.9" y="40.9" width="3.9" height="58.4" fill="url(#gb)"/>
<text x="535.30" y="48.30" font-size="4.2" text-anchor="start" font-weight="normal" fill="#4a4a4a" stroke="#4a4a4a" stroke-width="0.06">1.5</text>
<text x="535.30" y="57.45" font-size="4.2" text-anchor="start" font-weight="normal" fill="#4a4a4a" stroke="#4a4a4a" stroke-width="0.06">1</text>
<text x="535.30" y="66.61" font-size="4.2" text-anchor="start" font-weight="normal" fill="#4a4a4a" stroke="#4a4a4a" stroke-width="0.06">0.5</text>
<text x="535.30" y="75.77" font-size="4.2" text-anchor="start" font-weight="normal" fill="#4a4a4a" stroke="#4a4a4a" stroke-width="0.06">0</text>
<text x="535.30" y="84.93" font-size="4.2" text-anchor="start" font-weight="normal" fill="#4a4a4a" stroke="#4a4a4a" stroke-width="0.06">−0.5</text>
<text x="535.30" y="94.09" font-size="4.2" text-anchor="start" font-weight="normal" fill="#4a4a4a" stroke="#4a4a4a" stroke-width="0.06">−1</text>
<text x="295.40" y="18.30" font-size="16" text-anchor="start" font-weight="bold" fill="#000">b</text>
<line x1="433.81" y1="30.40" x2="433.81" y2="40.90" stroke="#858585" stroke-width="0.65"/>
<line x1="462.47" y1="30.40" x2="462.47" y2="40.90" stroke="#858585" stroke-width="0.65"/>
<line x1="433.81" y1="30.40" x2="462.47" y2="30.40" stroke="#858585" stroke-width="0.65"/>
<line x1="405.15" y1="26.50" x2="405.15" y2="40.90" stroke="#858585" stroke-width="0.65"/>
<line x1="448.14" y1="26.50" x2="448.14" y2="30.40" stroke="#858585" stroke-width="0.65"/>
<line x1="405.15" y1="26.50" x2="448.14" y2="26.50" stroke="#858585" stroke-width="0.65"/>
<line x1="376.49" y1="23.20" x2="376.49" y2="40.90" stroke="#858585" stroke-width="0.65"/>
<line x1="426.64" y1="23.20" x2="426.64" y2="26.50" stroke="#858585" stroke-width="0.65"/>
<line x1="376.49" y1="23.20" x2="426.64" y2="23.20" stroke="#858585" stroke-width="0.65"/>
<line x1="347.83" y1="20.70" x2="347.83" y2="40.90" stroke="#858585" stroke-width="0.65"/>
<line x1="401.57" y1="20.70" x2="401.57" y2="23.20" stroke="#858585" stroke-width="0.65"/>
<line x1="347.83" y1="20.70" x2="401.57" y2="20.70" stroke="#858585" stroke-width="0.65"/>
<line x1="330.50" y1="61.30" x2="333.50" y2="61.30" stroke="#858585" stroke-width="0.65"/>
<line x1="330.50" y1="69.46" x2="333.50" y2="69.46" stroke="#858585" stroke-width="0.65"/>
<line x1="330.50" y1="61.30" x2="330.50" y2="69.46" stroke="#858585" stroke-width="0.65"/>
<line x1="326.80" y1="49.05" x2="333.50" y2="49.05" stroke="#858585" stroke-width="0.65"/>
<line x1="326.80" y1="65.38" x2="330.50" y2="65.38" stroke="#858585" stroke-width="0.65"/>
<line x1="326.80" y1="49.05" x2="326.80" y2="65.38" stroke="#858585" stroke-width="0.65"/>
<line x1="330.50" y1="85.78" x2="333.50" y2="85.78" stroke="#858585" stroke-width="0.65"/>
<line x1="330.50" y1="93.94" x2="333.50" y2="93.94" stroke="#858585" stroke-width="0.65"/>
<line x1="330.50" y1="85.78" x2="330.50" y2="93.94" stroke="#858585" stroke-width="0.65"/>
<line x1="326.00" y1="77.62" x2="333.50" y2="77.62" stroke="#858585" stroke-width="0.65"/>
<line x1="326.00" y1="89.86" x2="330.50" y2="89.86" stroke="#858585" stroke-width="0.65"/>
<line x1="326.00" y1="77.62" x2="326.00" y2="89.86" stroke="#858585" stroke-width="0.65"/>
<line x1="319.30" y1="57.21" x2="326.80" y2="57.21" stroke="#858585" stroke-width="0.65"/>
<line x1="319.30" y1="83.74" x2="326.00" y2="83.74" stroke="#858585" stroke-width="0.65"/>
<line x1="319.30" y1="57.21" x2="319.30" y2="83.74" stroke="#858585" stroke-width="0.65"/>
<line x1="332.80" y1="134.74" x2="333.50" y2="134.74" stroke="#858585" stroke-width="0.65"/>
<line x1="332.80" y1="148.80" x2="333.50" y2="148.80" stroke="#858585" stroke-width="0.65"/>
<line x1="332.80" y1="134.74" x2="332.80" y2="148.80" stroke="#858585" stroke-width="0.65"/>
<line x1="332.00" y1="126.58" x2="333.50" y2="126.58" stroke="#858585" stroke-width="0.65"/>
<line x1="332.00" y1="141.77" x2="332.80" y2="141.77" stroke="#858585" stroke-width="0.65"/>
<line x1="332.00" y1="126.58" x2="332.00" y2="141.77" stroke="#858585" stroke-width="0.65"/>
<line x1="330.50" y1="118.42" x2="333.50" y2="118.42" stroke="#858585" stroke-width="0.65"/>
<line x1="330.50" y1="134.18" x2="332.00" y2="134.18" stroke="#858585" stroke-width="0.65"/>
<line x1="330.50" y1="118.42" x2="330.50" y2="134.18" stroke="#858585" stroke-width="0.65"/>
<line x1="326.50" y1="110.26" x2="333.50" y2="110.26" stroke="#858585" stroke-width="0.65"/>
<line x1="326.50" y1="126.30" x2="330.50" y2="126.30" stroke="#858585" stroke-width="0.65"/>
<line x1="326.50" y1="110.26" x2="326.50" y2="126.30" stroke="#858585" stroke-width="0.65"/>
<line x1="323.50" y1="102.10" x2="333.50" y2="102.10" stroke="#858585" stroke-width="0.65"/>
<line x1="323.50" y1="118.28" x2="326.50" y2="118.28" stroke="#858585" stroke-width="0.65"/>
<line x1="323.50" y1="102.10" x2="323.50" y2="118.28" stroke="#858585" stroke-width="0.65"/>
<line x1="332.10" y1="175.54" x2="333.50" y2="175.54" stroke="#858585" stroke-width="0.65"/>
<line x1="332.10" y1="189.50" x2="333.50" y2="189.50" stroke="#858585" stroke-width="0.65"/>
<line x1="332.10" y1="175.54" x2="332.10" y2="189.50" stroke="#858585" stroke-width="0.65"/>
<line x1="326.20" y1="167.38" x2="333.50" y2="167.38" stroke="#858585" stroke-width="0.65"/>
<line x1="326.20" y1="182.52" x2="332.10" y2="182.52" stroke="#858585" stroke-width="0.65"/>
<line x1="326.20" y1="167.38" x2="326.20" y2="182.52" stroke="#858585" stroke-width="0.65"/>
<line x1="316.90" y1="208.18" x2="333.50" y2="208.18" stroke="#858585" stroke-width="0.65"/>
<line x1="316.90" y1="220.05" x2="333.50" y2="220.05" stroke="#858585" stroke-width="0.65"/>
<line x1="316.90" y1="208.18" x2="316.90" y2="220.05" stroke="#858585" stroke-width="0.65"/>
<line x1="316.20" y1="174.95" x2="326.20" y2="174.95" stroke="#858585" stroke-width="0.65"/>
<line x1="316.20" y1="214.12" x2="316.90" y2="214.12" stroke="#858585" stroke-width="0.65"/>
<line x1="316.20" y1="174.95" x2="316.20" y2="214.12" stroke="#858585" stroke-width="0.65"/>
<line x1="315.60" y1="110.19" x2="323.50" y2="110.19" stroke="#858585" stroke-width="0.65"/>
<line x1="315.60" y1="194.53" x2="316.20" y2="194.53" stroke="#858585" stroke-width="0.65"/>
<line x1="315.60" y1="110.19" x2="315.60" y2="194.53" stroke="#858585" stroke-width="0.65"/>
<line x1="313.60" y1="70.48" x2="319.30" y2="70.48" stroke="#858585" stroke-width="0.65"/>
<line x1="313.60" y1="152.36" x2="315.60" y2="152.36" stroke="#858585" stroke-width="0.65"/>
<line x1="313.60" y1="70.48" x2="313.60" y2="152.36" stroke="#858585" stroke-width="0.65"/>
<rect x="49.70" y="286.00" width="25.18" height="5.68" fill="#74ADD1"/>
<rect x="74.88" y="286.00" width="25.18" height="5.68" fill="#5C91C2"/>
<rect x="100.06" y="286.00" width="25.18" height="5.68" fill="#D42A2A"/>
<rect x="125.24" y="286.00" width="25.18" height="5.68" fill="#FED687"/>
<rect x="150.42" y="286.00" width="25.18" height="5.68" fill="#5386BD"/>
<rect x="49.70" y="291.68" width="25.18" height="5.68" fill="#92C5DE"/>
<rect x="74.88" y="291.68" width="25.18" height="5.68" fill="#92C5DE"/>
<rect x="100.06" y="291.68" width="25.18" height="5.68" fill="#B20428"/>
<rect x="125.24" y="291.68" width="25.18" height="5.68" fill="#92C5DE"/>
<rect x="150.42" y="291.68" width="25.18" height="5.68" fill="#92C5DE"/>
<rect x="49.70" y="297.36" width="25.18" height="5.68" fill="#92C5DE"/>
<rect x="74.88" y="297.36" width="25.18" height="5.68" fill="#92C5DE"/>
<rect x="100.06" y="297.36" width="25.18" height="5.68" fill="#B20428"/>
<rect x="125.24" y="297.36" width="25.18" height="5.68" fill="#92C5DE"/>
<rect x="150.42" y="297.36" width="25.18" height="5.68" fill="#92C5DE"/>
<rect x="49.70" y="303.04" width="25.18" height="5.68" fill="#92C5DE"/>
<rect x="74.88" y="303.04" width="25.18" height="5.68" fill="#92C5DE"/>
<rect x="100.06" y="303.04" width="25.18" height="5.68" fill="#B20428"/>
<rect x="125.24" y="303.04" width="25.18" height="5.68" fill="#92C5DE"/>
<rect x="150.42" y="303.04" width="25.18" height="5.68" fill="#92C5DE"/>
<rect x="49.70" y="308.72" width="25.18" height="5.68" fill="#92C5DE"/>
<rect x="74.88" y="308.72" width="25.18" height="5.68" fill="#92C5DE"/>
<rect x="100.06" y="308.72" width="25.18" height="5.68" fill="#B20428"/>
<rect x="125.24" y="308.72" width="25.18" height="5.68" fill="#92C5DE"/>
<rect x="150.42" y="308.72" width="25.18" height="5.68" fill="#92C5DE"/>
<rect x="49.70" y="314.40" width="25.18" height="5.68" fill="#92C5DE"/>
<rect x="74.88" y="314.40" width="25.18" height="5.68" fill="#92C5DE"/>
<rect x="100.06" y="314.40" width="25.18" height="5.68" fill="#B20428"/>
<rect x="125.24" y="314.40" width="25.18" height="5.68" fill="#92C5DE"/>
<rect x="150.42" y="314.40" width="25.18" height="5.68" fill="#92C5DE"/>
<rect x="49.70" y="320.08" width="25.18" height="5.68" fill="#35439B"/>
<rect x="74.88" y="320.08" width="25.18" height="5.68" fill="#4575B4"/>
<rect x="100.06" y="320.08" width="25.18" height="5.68" fill="#FED182"/>
<rect x="125.24" y="320.08" width="25.18" height="5.68" fill="#FEE395"/>
<rect x="150.42" y="320.08" width="25.18" height="5.68" fill="#FDAE61"/>
<rect x="49.70" y="325.76" width="25.18" height="5.68" fill="#4575B4"/>
<rect x="74.88" y="325.76" width="25.18" height="5.68" fill="#4E80BA"/>
<rect x="100.06" y="325.76" width="25.18" height="5.68" fill="#E0F3F8"/>
<rect x="125.24" y="325.76" width="25.18" height="5.68" fill="#EA593B"/>
<rect x="150.42" y="325.76" width="25.18" height="5.68" fill="#FEE699"/>
<rect x="49.70" y="331.44" width="25.18" height="5.68" fill="#4575B4"/>
<rect x="74.88" y="331.44" width="25.18" height="5.68" fill="#BBE1EE"/>
<rect x="100.06" y="331.44" width="25.18" height="5.68" fill="#FDAE61"/>
<rect x="125.24" y="331.44" width="25.18" height="5.68" fill="#F16641"/>
<rect x="150.42" y="331.44" width="25.18" height="5.68" fill="#4575B4"/>
<rect x="49.70" y="337.12" width="25.18" height="5.68" fill="#4575B4"/>
<rect x="74.88" y="337.12" width="25.18" height="5.68" fill="#F3FAD6"/>
<rect x="100.06" y="337.12" width="25.18" height="5.68" fill="#E0F3F8"/>
<rect x="125.24" y="337.12" width="25.18" height="5.68" fill="#BC0F29"/>
<rect x="150.42" y="337.12" width="25.18" height="5.68" fill="#4575B4"/>
<rect x="49.70" y="342.80" width="25.18" height="5.68" fill="#92C5DE"/>
<rect x="74.88" y="342.80" width="25.18" height="5.68" fill="#92C5DE"/>
<rect x="100.06" y="342.80" width="25.18" height="5.68" fill="#92C5DE"/>
<rect x="125.24" y="342.80" width="25.18" height="5.68" fill="#B20428"/>
<rect x="150.42" y="342.80" width="25.18" height="5.68" fill="#92C5DE"/>
<rect x="49.70" y="348.48" width="25.18" height="5.68" fill="#92C5DE"/>
<rect x="74.88" y="348.48" width="25.18" height="5.68" fill="#92C5DE"/>
<rect x="100.06" y="348.48" width="25.18" height="5.68" fill="#92C5DE"/>
<rect x="125.24" y="348.48" width="25.18" height="5.68" fill="#B20428"/>
<rect x="150.42" y="348.48" width="25.18" height="5.68" fill="#92C5DE"/>
<rect x="49.70" y="354.16" width="25.18" height="5.68" fill="#92C5DE"/>
<rect x="74.88" y="354.16" width="25.18" height="5.68" fill="#92C5DE"/>
<rect x="100.06" y="354.16" width="25.18" height="5.68" fill="#92C5DE"/>
<rect x="125.24" y="354.16" width="25.18" height="5.68" fill="#B20428"/>
<rect x="150.42" y="354.16" width="25.18" height="5.68" fill="#92C5DE"/>
<rect x="49.70" y="359.84" width="25.18" height="5.68" fill="#92C5DE"/>
<rect x="74.88" y="359.84" width="25.18" height="5.68" fill="#92C5DE"/>
<rect x="100.06" y="359.84" width="25.18" height="5.68" fill="#92C5DE"/>
<rect x="125.24" y="359.84" width="25.18" height="5.68" fill="#B20428"/>
<rect x="150.42" y="359.84" width="25.18" height="5.68" fill="#92C5DE"/>
<rect x="49.70" y="365.52" width="25.18" height="5.68" fill="#B20428"/>
<rect x="74.88" y="365.52" width="25.18" height="5.68" fill="#92C5DE"/>
<rect x="100.06" y="365.52" width="25.18" height="5.68" fill="#92C5DE"/>
<rect x="125.24" y="365.52" width="25.18" height="5.68" fill="#92C5DE"/>
<rect x="150.42" y="365.52" width="25.18" height="5.68" fill="#C6E6F0"/>
<rect x="49.70" y="371.20" width="25.18" height="5.68" fill="#B20428"/>
<rect x="74.88" y="371.20" width="25.18" height="5.68" fill="#92C5DE"/>
<rect x="100.06" y="371.20" width="25.18" height="5.68" fill="#92C5DE"/>
<rect x="125.24" y="371.20" width="25.18" height="5.68" fill="#92C5DE"/>
<rect x="150.42" y="371.20" width="25.18" height="5.68" fill="#92C5DE"/>
<rect x="49.70" y="376.88" width="25.18" height="5.68" fill="#B20428"/>
<rect x="74.88" y="376.88" width="25.18" height="5.68" fill="#92C5DE"/>
<rect x="100.06" y="376.88" width="25.18" height="5.68" fill="#92C5DE"/>
<rect x="125.24" y="376.88" width="25.18" height="5.68" fill="#92C5DE"/>
<rect x="150.42" y="376.88" width="25.18" height="5.68" fill="#92C5DE"/>
<rect x="49.70" y="382.56" width="25.18" height="5.68" fill="#B20428"/>
<rect x="74.88" y="382.56" width="25.18" height="5.68" fill="#92C5DE"/>
<rect x="100.06" y="382.56" width="25.18" height="5.68" fill="#92C5DE"/>
<rect x="125.24" y="382.56" width="25.18" height="5.68" fill="#92C5DE"/>
<rect x="150.42" y="382.56" width="25.18" height="5.68" fill="#92C5DE"/>
<rect x="49.70" y="388.24" width="25.18" height="5.68" fill="#B20428"/>
<rect x="74.88" y="388.24" width="25.18" height="5.68" fill="#92C5DE"/>
<rect x="100.06" y="388.24" width="25.18" height="5.68" fill="#92C5DE"/>
<rect x="125.24" y="388.24" width="25.18" height="5.68" fill="#92C5DE"/>
<rect x="150.42" y="388.24" width="25.18" height="5.68" fill="#92C5DE"/>
<rect x="49.70" y="393.92" width="25.18" height="5.68" fill="#B20428"/>
<rect x="74.88" y="393.92" width="25.18" height="5.68" fill="#92C5DE"/>
<rect x="100.06" y="393.92" width="25.18" height="5.68" fill="#92C5DE"/>
<rect x="125.24" y="393.92" width="25.18" height="5.68" fill="#92C5DE"/>
<rect x="150.42" y="393.92" width="25.18" height="5.68" fill="#92C5DE"/>
<rect x="49.70" y="399.60" width="25.18" height="5.68" fill="#B20428"/>
<rect x="74.88" y="399.60" width="25.18" height="5.68" fill="#92C5DE"/>
<rect x="100.06" y="399.60" width="25.18" height="5.68" fill="#92C5DE"/>
<rect x="125.24" y="399.60" width="25.18" height="5.68" fill="#92C5DE"/>
<rect x="150.42" y="399.60" width="25.18" height="5.68" fill="#92C5DE"/>
<rect x="49.70" y="405.28" width="25.18" height="5.68" fill="#C01329"/>
<rect x="74.88" y="405.28" width="25.18" height="5.68" fill="#F0F9DC"/>
<rect x="100.06" y="405.28" width="25.18" height="5.68" fill="#74ADD1"/>
<rect x="125.24" y="405.28" width="25.18" height="5.68" fill="#74ADD1"/>
<rect x="150.42" y="405.28" width="25.18" height="5.68" fill="#74ADD1"/>
<rect x="49.70" y="410.96" width="25.18" height="5.68" fill="#CA1F29"/>
<rect x="74.88" y="410.96" width="25.18" height="5.68" fill="#FFF9B6"/>
<rect x="100.06" y="410.96" width="25.18" height="5.68" fill="#5386BD"/>
<rect x="125.24" y="410.96" width="25.18" height="5.68" fill="#A0D0E4"/>
<rect x="150.42" y="410.96" width="25.18" height="5.68" fill="#5386BD"/>
<rect x="49.70" y="416.64" width="25.18" height="5.68" fill="#6BA2CB"/>
<rect x="74.88" y="416.64" width="25.18" height="5.68" fill="#BC0F29"/>
<rect x="100.06" y="416.64" width="25.18" height="5.68" fill="#D0EBF4"/>
<rect x="125.24" y="416.64" width="25.18" height="5.68" fill="#6BA2CB"/>
<rect x="150.42" y="416.64" width="25.18" height="5.68" fill="#6BA2CB"/>
<rect x="49.70" y="422.32" width="25.18" height="5.68" fill="#6BA2CB"/>
<rect x="74.88" y="422.32" width="25.18" height="5.68" fill="#BC0F29"/>
<rect x="100.06" y="422.32" width="25.18" height="5.68" fill="#FFFFBF"/>
<rect x="125.24" y="422.32" width="25.18" height="5.68" fill="#6BA2CB"/>
<rect x="150.42" y="422.32" width="25.18" height="5.68" fill="#6BA2CB"/>
<rect x="49.70" y="428.00" width="25.18" height="5.68" fill="#6BA2CB"/>
<rect x="74.88" y="428.00" width="25.18" height="5.68" fill="#BC0F29"/>
<rect x="100.06" y="428.00" width="25.18" height="5.68" fill="#6BA2CB"/>
<rect x="125.24" y="428.00" width="25.18" height="5.68" fill="#FFFFBF"/>
<rect x="150.42" y="428.00" width="25.18" height="5.68" fill="#6BA2CB"/>
<rect x="49.70" y="433.68" width="25.18" height="5.68" fill="#FFFFBF"/>
<rect x="74.88" y="433.68" width="25.18" height="5.68" fill="#BC0F29"/>
<rect x="100.06" y="433.68" width="25.18" height="5.68" fill="#6BA2CB"/>
<rect x="125.24" y="433.68" width="25.18" height="5.68" fill="#6BA2CB"/>
<rect x="150.42" y="433.68" width="25.18" height="5.68" fill="#6BA2CB"/>
<rect x="49.70" y="439.36" width="25.18" height="5.68" fill="#92C5DE"/>
<rect x="74.88" y="439.36" width="25.18" height="5.68" fill="#B20428"/>
<rect x="100.06" y="439.36" width="25.18" height="5.68" fill="#92C5DE"/>
<rect x="125.24" y="439.36" width="25.18" height="5.68" fill="#92C5DE"/>
<rect x="150.42" y="439.36" width="25.18" height="5.68" fill="#92C5DE"/>
<rect x="49.70" y="445.04" width="25.18" height="5.68" fill="#92C5DE"/>
<rect x="74.88" y="445.04" width="25.18" height="5.68" fill="#B20428"/>
<rect x="100.06" y="445.04" width="25.18" height="5.68" fill="#92C5DE"/>
<rect x="125.24" y="445.04" width="25.18" height="5.68" fill="#92C5DE"/>
<rect x="150.42" y="445.04" width="25.18" height="5.68" fill="#92C5DE"/>
<rect x="49.70" y="450.72" width="25.18" height="5.68" fill="#92C5DE"/>
<rect x="74.88" y="450.72" width="25.18" height="5.68" fill="#B20428"/>
<rect x="100.06" y="450.72" width="25.18" height="5.68" fill="#92C5DE"/>
<rect x="125.24" y="450.72" width="25.18" height="5.68" fill="#92C5DE"/>
<rect x="150.42" y="450.72" width="25.18" height="5.68" fill="#92C5DE"/>
<rect x="49.70" y="456.40" width="25.18" height="5.68" fill="#92C5DE"/>
<rect x="74.88" y="456.40" width="25.18" height="5.68" fill="#B20428"/>
<rect x="100.06" y="456.40" width="25.18" height="5.68" fill="#92C5DE"/>
<rect x="125.24" y="456.40" width="25.18" height="5.68" fill="#92C5DE"/>
<rect x="150.42" y="456.40" width="25.18" height="5.68" fill="#92C5DE"/>
<rect x="49.70" y="462.08" width="25.18" height="5.68" fill="#92C5DE"/>
<rect x="74.88" y="462.08" width="25.18" height="5.68" fill="#B20428"/>
<rect x="100.06" y="462.08" width="25.18" height="5.68" fill="#92C5DE"/>
<rect x="125.24" y="462.08" width="25.18" height="5.68" fill="#92C5DE"/>
<rect x="150.42" y="462.08" width="25.18" height="5.68" fill="#92C5DE"/>
<rect x="49.70" y="467.76" width="25.18" height="5.68" fill="#92C5DE"/>
<rect x="74.88" y="467.76" width="25.18" height="5.68" fill="#B20428"/>
<rect x="100.06" y="467.76" width="25.18" height="5.68" fill="#92C5DE"/>
<rect x="125.24" y="467.76" width="25.18" height="5.68" fill="#92C5DE"/>
<rect x="150.42" y="467.76" width="25.18" height="5.68" fill="#92C5DE"/>
<line x1="49.70" y1="291.68" x2="175.60" y2="291.68" stroke="#9a9a9a" stroke-width="0.3"/>
<line x1="49.70" y1="297.36" x2="175.60" y2="297.36" stroke="#9a9a9a" stroke-width="0.3"/>
<line x1="49.70" y1="303.04" x2="175.60" y2="303.04" stroke="#9a9a9a" stroke-width="0.3"/>
<line x1="49.70" y1="308.72" x2="175.60" y2="308.72" stroke="#9a9a9a" stroke-width="0.3"/>
<line x1="49.70" y1="314.40" x2="175.60" y2="314.40" stroke="#9a9a9a" stroke-width="0.3"/>
<line x1="49.70" y1="320.08" x2="175.60" y2="320.08" stroke="#9a9a9a" stroke-width="0.3"/>
<line x1="49.70" y1="325.76" x2="175.60" y2="325.76" stroke="#9a9a9a" stroke-width="0.3"/>
<line x1="49.70" y1="331.44" x2="175.60" y2="331.44" stroke="#9a9a9a" stroke-width="0.3"/>
<line x1="49.70" y1="337.12" x2="175.60" y2="337.12" stroke="#9a9a9a" stroke-width="0.3"/>
<line x1="49.70" y1="342.80" x2="175.60" y2="342.80" stroke="#9a9a9a" stroke-width="0.3"/>
<line x1="49.70" y1="348.48" x2="175.60" y2="348.48" stroke="#9a9a9a" stroke-width="0.3"/>
<line x1="49.70" y1="354.16" x2="175.60" y2="354.16" stroke="#9a9a9a" stroke-width="0.3"/>
<line x1="49.70" y1="359.84" x2="175.60" y2="359.84" stroke="#9a9a9a" stroke-width="0.3"/>
<line x1="49.70" y1="365.52" x2="175.60" y2="365.52" stroke="#9a9a9a" stroke-width="0.3"/>
<line x1="49.70" y1="371.20" x2="175.60" y2="371.20" stroke="#9a9a9a" stroke-width="0.3"/>
<line x1="49.70" y1="376.88" x2="175.60" y2="376.88" stroke="#9a9a9a" stroke-width="0.3"/>
<line x1="49.70" y1="382.56" x2="175.60" y2="382.56" stroke="#9a9a9a" stroke-width="0.3"/>
<line x1="49.70" y1="388.24" x2="175.60" y2="388.24" stroke="#9a9a9a" stroke-width="0.3"/>
<line x1="49.70" y1="393.92" x2="175.60" y2="393.92" stroke="#9a9a9a" stroke-width="0.3"/>
<line x1="49.70" y1="399.60" x2="175.60" y2="399.60" stroke="#9a9a9a" stroke-width="0.3"/>
<line x1="49.70" y1="405.28" x2="175.60" y2="405.28" stroke="#9a9a9a" stroke-width="0.3"/>
<line x1="49.70" y1="410.96" x2="175.60" y2="410.96" stroke="#9a9a9a" stroke-width="0.3"/>
<line x1="49.70" y1="416.64" x2="175.60" y2="416.64" stroke="#9a9a9a" stroke-width="0.3"/>
<line x1="49.70" y1="422.32" x2="175.60" y2="422.32" stroke="#9a9a9a" stroke-width="0.3"/>
<line x1="49.70" y1="428.00" x2="175.60" y2="428.00" stroke="#9a9a9a" stroke-width="0.3"/>
<line x1="49.70" y1="433.68" x2="175.60" y2="433.68" stroke="#9a9a9a" stroke-width="0.3"/>
<line x1="49.70" y1="439.36" x2="175.60" y2="439.36" stroke="#9a9a9a" stroke-width="0.3"/>
<line x1="49.70" y1="445.04" x2="175.60" y2="445.04" stroke="#9a9a9a" stroke-width="0.3"/>
<line x1="49.70" y1="450.72" x2="175.60" y2="450.72" stroke="#9a9a9a" stroke-width="0.3"/>
<line x1="49.70" y1="456.40" x2="175.60" y2="456.40" stroke="#9a9a9a" stroke-width="0.3"/>
<line x1="49.70" y1="462.08" x2="175.60" y2="462.08" stroke="#9a9a9a" stroke-width="0.3"/>
<line x1="49.70" y1="467.76" x2="175.60" y2="467.76" stroke="#9a9a9a" stroke-width="0.3"/>
<line x1="74.88" y1="286.00" x2="74.88" y2="473.44" stroke="#9a9a9a" stroke-width="0.3"/>
<line x1="100.06" y1="286.00" x2="100.06" y2="473.44" stroke="#9a9a9a" stroke-width="0.3"/>
<line x1="125.24" y1="286.00" x2="125.24" y2="473.44" stroke="#9a9a9a" stroke-width="0.3"/>
<line x1="150.42" y1="286.00" x2="150.42" y2="473.44" stroke="#9a9a9a" stroke-width="0.3"/>
<text transform="translate(177.10,290.38) scale(0.85,1)" font-size="3.765" text-anchor="start" font-weight="normal" fill="#2e2e2e" stroke="#2e2e2e" stroke-width="0.11">fitone</text>
<text transform="translate(177.10,296.06) scale(0.85,1)" font-size="3.765" text-anchor="start" font-weight="normal" fill="#2e2e2e" stroke="#2e2e2e" stroke-width="0.11">phytol</text>
<text transform="translate(177.10,301.74) scale(0.85,1)" font-size="3.765" text-anchor="start" font-weight="normal" fill="#2e2e2e" stroke="#2e2e2e" stroke-width="0.11">(+)-δ-drimenol</text>
<text transform="translate(177.10,307.42) scale(0.85,1)" font-size="3.765" text-anchor="start" font-weight="normal" fill="#2e2e2e" stroke="#2e2e2e" stroke-width="0.11">germacrene</text>
<text transform="translate(177.10,313.10) scale(0.85,1)" font-size="3.765" text-anchor="start" font-weight="normal" fill="#2e2e2e" stroke="#2e2e2e" stroke-width="0.11">cadinene</text>
<text transform="translate(177.10,318.78) scale(0.85,1)" font-size="3.765" text-anchor="start" font-weight="normal" fill="#2e2e2e" stroke="#2e2e2e" stroke-width="0.11">farnesol</text>
<text transform="translate(177.10,324.46) scale(0.85,1)" font-size="3.765" text-anchor="start" font-weight="normal" fill="#2e2e2e" stroke="#2e2e2e" stroke-width="0.11">beta-eudesmol</text>
<text transform="translate(177.10,330.14) scale(0.85,1)" font-size="3.765" text-anchor="start" font-weight="normal" fill="#2e2e2e" stroke="#2e2e2e" stroke-width="0.11">cryptomeridiol</text>
<text transform="translate(177.10,335.82) scale(0.85,1)" font-size="3.765" text-anchor="start" font-weight="normal" fill="#2e2e2e" stroke="#2e2e2e" stroke-width="0.11">4(15),5,10(14)-germacratrien-1-ol</text>
<text transform="translate(177.10,341.50) scale(0.85,1)" font-size="3.765" text-anchor="start" font-weight="normal" fill="#2e2e2e" stroke="#2e2e2e" stroke-width="0.11">elemol</text>
<text transform="translate(177.10,347.18) scale(0.85,1)" font-size="3.765" text-anchor="start" font-weight="normal" fill="#2e2e2e" stroke="#2e2e2e" stroke-width="0.11">(-)-epiglobulol</text>
<text transform="translate(177.10,352.86) scale(0.85,1)" font-size="3.765" text-anchor="start" font-weight="normal" fill="#2e2e2e" stroke="#2e2e2e" stroke-width="0.11">cedrene</text>
<text transform="translate(177.10,358.54) scale(0.85,1)" font-size="3.765" text-anchor="start" font-weight="normal" fill="#2e2e2e" stroke="#2e2e2e" stroke-width="0.11">β-selinene</text>
<text transform="translate(177.10,364.22) scale(0.85,1)" font-size="3.765" text-anchor="start" font-weight="normal" fill="#2e2e2e" stroke="#2e2e2e" stroke-width="0.11">(+)-aromadendrene</text>
<text transform="translate(177.10,369.90) scale(0.85,1)" font-size="3.765" text-anchor="start" font-weight="normal" fill="#2e2e2e" stroke="#2e2e2e" stroke-width="0.11">geranylacetone</text>
<text transform="translate(177.10,375.58) scale(0.85,1)" font-size="3.765" text-anchor="start" font-weight="normal" fill="#2e2e2e" stroke="#2e2e2e" stroke-width="0.11">linalool</text>
<text transform="translate(177.10,381.26) scale(0.85,1)" font-size="3.765" text-anchor="start" font-weight="normal" fill="#2e2e2e" stroke="#2e2e2e" stroke-width="0.11">trans-2-heptenal</text>
<text transform="translate(177.10,386.94) scale(0.85,1)" font-size="3.765" text-anchor="start" font-weight="normal" fill="#2e2e2e" stroke="#2e2e2e" stroke-width="0.11">2-undecenal</text>
<text transform="translate(177.10,392.62) scale(0.85,1)" font-size="3.765" text-anchor="start" font-weight="normal" fill="#2e2e2e" stroke="#2e2e2e" stroke-width="0.11">trans,trans-2,4-decadien-1-al</text>
<text transform="translate(177.10,398.30) scale(0.85,1)" font-size="3.765" text-anchor="start" font-weight="normal" fill="#2e2e2e" stroke="#2e2e2e" stroke-width="0.11">(E)-2-octenal</text>
<text transform="translate(177.10,403.98) scale(0.85,1)" font-size="3.765" text-anchor="start" font-weight="normal" fill="#2e2e2e" stroke="#2e2e2e" stroke-width="0.11">1-octen-3-ol</text>
<text transform="translate(177.10,409.66) scale(0.85,1)" font-size="3.765" text-anchor="start" font-weight="normal" fill="#2e2e2e" stroke="#2e2e2e" stroke-width="0.11">dl-menthol</text>
<text transform="translate(177.10,415.34) scale(0.85,1)" font-size="3.765" text-anchor="start" font-weight="normal" fill="#2e2e2e" stroke="#2e2e2e" stroke-width="0.11">alpha-bisabolol</text>
<text transform="translate(177.10,421.02) scale(0.85,1)" font-size="3.765" text-anchor="start" font-weight="normal" fill="#2e2e2e" stroke="#2e2e2e" stroke-width="0.11">beta-elemene</text>
<text transform="translate(177.10,426.70) scale(0.85,1)" font-size="3.765" text-anchor="start" font-weight="normal" fill="#2e2e2e" stroke="#2e2e2e" stroke-width="0.11">cembrene</text>
<text transform="translate(177.10,432.38) scale(0.85,1)" font-size="3.765" text-anchor="start" font-weight="normal" fill="#2e2e2e" stroke="#2e2e2e" stroke-width="0.11">(R,R)-farnesol</text>
<text transform="translate(177.10,438.06) scale(0.85,1)" font-size="3.765" text-anchor="start" font-weight="normal" fill="#2e2e2e" stroke="#2e2e2e" stroke-width="0.11">nerolidol</text>
<text transform="translate(177.10,443.74) scale(0.85,1)" font-size="3.765" text-anchor="start" font-weight="normal" fill="#2e2e2e" stroke="#2e2e2e" stroke-width="0.11">(+)-delta-cadinene</text>
<text transform="translate(177.10,449.42) scale(0.85,1)" font-size="3.765" text-anchor="start" font-weight="normal" fill="#2e2e2e" stroke="#2e2e2e" stroke-width="0.11">farnesene</text>
<text transform="translate(177.10,455.10) scale(0.85,1)" font-size="3.765" text-anchor="start" font-weight="normal" fill="#2e2e2e" stroke="#2e2e2e" stroke-width="0.11">(E)-beta-farnesene</text>
<text transform="translate(177.10,460.78) scale(0.85,1)" font-size="3.765" text-anchor="start" font-weight="normal" fill="#2e2e2e" stroke="#2e2e2e" stroke-width="0.11">(2E,6E)-3,7,11-trimethyldodeca-2,6,10-trienal</text>
<text transform="translate(177.10,466.46) scale(0.85,1)" font-size="3.765" text-anchor="start" font-weight="normal" fill="#2e2e2e" stroke="#2e2e2e" stroke-width="0.11">beta-caryophyllene</text>
<text transform="translate(177.10,472.14) scale(0.85,1)" font-size="3.765" text-anchor="start" font-weight="normal" fill="#2e2e2e" stroke="#2e2e2e" stroke-width="0.11">(-)-humulene epoxide II</text>
<text transform="translate(62.29,477.24) scale(0.85,1)" font-size="3.765" text-anchor="middle" font-weight="normal" fill="#2e2e2e" stroke="#2e2e2e" stroke-width="0.11">Corn</text>
<text transform="translate(87.47,477.24) scale(0.85,1)" font-size="3.765" text-anchor="middle" font-weight="normal" fill="#2e2e2e" stroke="#2e2e2e" stroke-width="0.11">Sorghum</text>
<text transform="translate(112.65,477.24) scale(0.85,1)" font-size="3.765" text-anchor="middle" font-weight="normal" fill="#2e2e2e" stroke="#2e2e2e" stroke-width="0.11">Wheat</text>
<text transform="translate(137.83,477.24) scale(0.85,1)" font-size="3.765" text-anchor="middle" font-weight="normal" fill="#2e2e2e" stroke="#2e2e2e" stroke-width="0.11">Rice</text>
<text transform="translate(163.01,477.24) scale(0.85,1)" font-size="3.765" text-anchor="middle" font-weight="normal" fill="#2e2e2e" stroke="#2e2e2e" stroke-width="0.11">Sticky-rice</text>
<defs><linearGradient id="gc" x1="0" y1="0" x2="0" y2="1"><stop offset="0.00" stop-color="#B20428"/><stop offset="0.10" stop-color="#D42A2A"/><stop offset="0.20" stop-color="#F46D43"/><stop offset="0.30" stop-color="#FDAE61"/><stop offset="0.40" stop-color="#FEE090"/><stop offset="0.50" stop-color="#FFFFBF"/><stop offset="0.60" stop-color="#E0F3F8"/><stop offset="0.70" stop-color="#ABD9E9"/><stop offset="0.80" stop-color="#74ADD1"/><stop offset="0.90" stop-color="#4575B4"/><stop offset="1.00" stop-color="#313695"/></linearGradient></defs>
<rect x="246.0" y="286.4" width="3.6" height="57.60000000000002" fill="url(#gc)"/>
<text x="251.10" y="293.69" font-size="4.2" text-anchor="start" font-weight="normal" fill="#4a4a4a" stroke="#4a4a4a" stroke-width="0.06">1.5</text>
<text x="251.10" y="303.33" font-size="4.2" text-anchor="start" font-weight="normal" fill="#4a4a4a" stroke="#4a4a4a" stroke-width="0.06">1</text>
<text x="251.10" y="312.96" font-size="4.2" text-anchor="start" font-weight="normal" fill="#4a4a4a" stroke="#4a4a4a" stroke-width="0.06">0.5</text>
<text x="251.10" y="322.59" font-size="4.2" text-anchor="start" font-weight="normal" fill="#4a4a4a" stroke="#4a4a4a" stroke-width="0.06">0</text>
<text x="251.10" y="332.22" font-size="4.2" text-anchor="start" font-weight="normal" fill="#4a4a4a" stroke="#4a4a4a" stroke-width="0.06">−0.5</text>
<text x="251.10" y="341.85" font-size="4.2" text-anchor="start" font-weight="normal" fill="#4a4a4a" stroke="#4a4a4a" stroke-width="0.06">−1</text>
<text x="8.60" y="262.10" font-size="16" text-anchor="start" font-weight="bold" fill="#000">c</text>
<line x1="137.83" y1="273.60" x2="137.83" y2="286.00" stroke="#858585" stroke-width="0.65"/>
<line x1="163.01" y1="273.60" x2="163.01" y2="286.00" stroke="#858585" stroke-width="0.65"/>
<line x1="137.83" y1="273.60" x2="163.01" y2="273.60" stroke="#858585" stroke-width="0.65"/>
<line x1="112.65" y1="270.30" x2="112.65" y2="286.00" stroke="#858585" stroke-width="0.65"/>
<line x1="150.42" y1="270.30" x2="150.42" y2="273.60" stroke="#858585" stroke-width="0.65"/>
<line x1="112.65" y1="270.30" x2="150.42" y2="270.30" stroke="#858585" stroke-width="0.65"/>
<line x1="87.47" y1="266.50" x2="87.47" y2="286.00" stroke="#858585" stroke-width="0.65"/>
<line x1="131.53" y1="266.50" x2="131.53" y2="270.30" stroke="#858585" stroke-width="0.65"/>
<line x1="87.47" y1="266.50" x2="131.53" y2="266.50" stroke="#858585" stroke-width="0.65"/>
<line x1="62.29" y1="265.60" x2="62.29" y2="286.00" stroke="#858585" stroke-width="0.65"/>
<line x1="109.50" y1="265.60" x2="109.50" y2="266.50" stroke="#858585" stroke-width="0.65"/>
<line x1="62.29" y1="265.60" x2="109.50" y2="265.60" stroke="#858585" stroke-width="0.65"/>
<line x1="43.60" y1="288.84" x2="49.70" y2="288.84" stroke="#858585" stroke-width="0.65"/>
<line x1="43.60" y1="299.85" x2="49.70" y2="299.85" stroke="#858585" stroke-width="0.65"/>
<line x1="43.60" y1="288.84" x2="43.60" y2="299.85" stroke="#858585" stroke-width="0.65"/>
<line x1="43.30" y1="322.92" x2="49.70" y2="322.92" stroke="#858585" stroke-width="0.65"/>
<line x1="43.30" y1="328.60" x2="49.70" y2="328.60" stroke="#858585" stroke-width="0.65"/>
<line x1="43.30" y1="322.92" x2="43.30" y2="328.60" stroke="#858585" stroke-width="0.65"/>
<line x1="44.80" y1="339.96" x2="49.70" y2="339.96" stroke="#858585" stroke-width="0.65"/>
<line x1="44.80" y1="350.65" x2="49.70" y2="350.65" stroke="#858585" stroke-width="0.65"/>
<line x1="44.80" y1="339.96" x2="44.80" y2="350.65" stroke="#858585" stroke-width="0.65"/>
<line x1="41.60" y1="334.28" x2="49.70" y2="334.28" stroke="#858585" stroke-width="0.65"/>
<line x1="41.60" y1="345.30" x2="44.80" y2="345.30" stroke="#858585" stroke-width="0.65"/>
<line x1="41.60" y1="334.28" x2="41.60" y2="345.30" stroke="#858585" stroke-width="0.65"/>
<line x1="36.50" y1="325.76" x2="43.30" y2="325.76" stroke="#858585" stroke-width="0.65"/>
<line x1="36.50" y1="339.79" x2="41.60" y2="339.79" stroke="#858585" stroke-width="0.65"/>
<line x1="36.50" y1="325.76" x2="36.50" y2="339.79" stroke="#858585" stroke-width="0.65"/>
<line x1="33.20" y1="294.35" x2="43.60" y2="294.35" stroke="#858585" stroke-width="0.65"/>
<line x1="33.20" y1="332.78" x2="36.50" y2="332.78" stroke="#858585" stroke-width="0.65"/>
<line x1="33.20" y1="294.35" x2="33.20" y2="332.78" stroke="#858585" stroke-width="0.65"/>
<line x1="48.30" y1="368.36" x2="49.70" y2="368.36" stroke="#858585" stroke-width="0.65"/>
<line x1="48.30" y1="388.00" x2="49.70" y2="388.00" stroke="#858585" stroke-width="0.65"/>
<line x1="48.30" y1="368.36" x2="48.30" y2="388.00" stroke="#858585" stroke-width="0.65"/>
<line x1="46.70" y1="408.12" x2="49.70" y2="408.12" stroke="#858585" stroke-width="0.65"/>
<line x1="46.70" y1="413.80" x2="49.70" y2="413.80" stroke="#858585" stroke-width="0.65"/>
<line x1="46.70" y1="408.12" x2="46.70" y2="413.80" stroke="#858585" stroke-width="0.65"/>
<line x1="43.60" y1="378.18" x2="48.30" y2="378.18" stroke="#858585" stroke-width="0.65"/>
<line x1="43.60" y1="410.96" x2="46.70" y2="410.96" stroke="#858585" stroke-width="0.65"/>
<line x1="43.60" y1="378.18" x2="43.60" y2="410.96" stroke="#858585" stroke-width="0.65"/>
<line x1="48.10" y1="419.48" x2="49.70" y2="419.48" stroke="#858585" stroke-width="0.65"/>
<line x1="48.10" y1="425.16" x2="49.70" y2="425.16" stroke="#858585" stroke-width="0.65"/>
<line x1="48.10" y1="419.48" x2="48.10" y2="425.16" stroke="#858585" stroke-width="0.65"/>
<line x1="45.80" y1="436.52" x2="49.70" y2="436.52" stroke="#858585" stroke-width="0.65"/>
<line x1="45.80" y1="451.60" x2="49.70" y2="451.60" stroke="#858585" stroke-width="0.65"/>
<line x1="45.80" y1="436.52" x2="45.80" y2="451.60" stroke="#858585" stroke-width="0.65"/>
<line x1="43.40" y1="430.84" x2="49.70" y2="430.84" stroke="#858585" stroke-width="0.65"/>
<line x1="43.40" y1="444.06" x2="45.80" y2="444.06" stroke="#858585" stroke-width="0.65"/>
<line x1="43.40" y1="430.84" x2="43.40" y2="444.06" stroke="#858585" stroke-width="0.65"/>
<line x1="43.20" y1="422.32" x2="48.10" y2="422.32" stroke="#858585" stroke-width="0.65"/>
<line x1="43.20" y1="437.45" x2="43.40" y2="437.45" stroke="#858585" stroke-width="0.65"/>
<line x1="43.20" y1="422.32" x2="43.20" y2="437.45" stroke="#858585" stroke-width="0.65"/>
<line x1="31.50" y1="394.57" x2="43.60" y2="394.57" stroke="#858585" stroke-width="0.65"/>
<line x1="31.50" y1="429.88" x2="43.20" y2="429.88" stroke="#858585" stroke-width="0.65"/>
<line x1="31.50" y1="394.57" x2="31.50" y2="429.88" stroke="#858585" stroke-width="0.65"/>
<line x1="29.10" y1="313.56" x2="33.20" y2="313.56" stroke="#858585" stroke-width="0.65"/>
<line x1="29.10" y1="412.23" x2="31.50" y2="412.23" stroke="#858585" stroke-width="0.65"/>
<line x1="29.10" y1="313.56" x2="29.10" y2="412.23" stroke="#858585" stroke-width="0.65"/>
<rect x="333.50" y="285.90" width="28.66" height="7.50" fill="#E44C36"/>
<rect x="362.16" y="285.90" width="28.66" height="7.50" fill="#7AB1D3"/>
<rect x="390.82" y="285.90" width="28.66" height="7.50" fill="#F3FAD6"/>
<rect x="419.48" y="285.90" width="28.66" height="7.50" fill="#FDB86A"/>
<rect x="448.14" y="285.90" width="28.66" height="7.50" fill="#7AB1D3"/>
<rect x="333.50" y="293.40" width="28.66" height="7.50" fill="#B20428"/>
<rect x="362.16" y="293.40" width="28.66" height="7.50" fill="#C5E6F0"/>
<rect x="390.82" y="293.40" width="28.66" height="7.50" fill="#C5E6F0"/>
<rect x="419.48" y="293.40" width="28.66" height="7.50" fill="#C5E6F0"/>
<rect x="448.14" y="293.40" width="28.66" height="7.50" fill="#C5E6F0"/>
<rect x="333.50" y="300.91" width="28.66" height="7.50" fill="#B20428"/>
<rect x="362.16" y="300.91" width="28.66" height="7.50" fill="#C5E6F0"/>
<rect x="390.82" y="300.91" width="28.66" height="7.50" fill="#C5E6F0"/>
<rect x="419.48" y="300.91" width="28.66" height="7.50" fill="#C5E6F0"/>
<rect x="448.14" y="300.91" width="28.66" height="7.50" fill="#C5E6F0"/>
<rect x="333.50" y="308.41" width="28.66" height="7.50" fill="#B20428"/>
<rect x="362.16" y="308.41" width="28.66" height="7.50" fill="#C5E6F0"/>
<rect x="390.82" y="308.41" width="28.66" height="7.50" fill="#C5E6F0"/>
<rect x="419.48" y="308.41" width="28.66" height="7.50" fill="#C5E6F0"/>
<rect x="448.14" y="308.41" width="28.66" height="7.50" fill="#C5E6F0"/>
<rect x="333.50" y="315.92" width="28.66" height="7.50" fill="#B20428"/>
<rect x="362.16" y="315.92" width="28.66" height="7.50" fill="#C5E6F0"/>
<rect x="390.82" y="315.92" width="28.66" height="7.50" fill="#C5E6F0"/>
<rect x="419.48" y="315.92" width="28.66" height="7.50" fill="#C5E6F0"/>
<rect x="448.14" y="315.92" width="28.66" height="7.50" fill="#C5E6F0"/>
<rect x="333.50" y="323.42" width="28.66" height="7.50" fill="#B20428"/>
<rect x="362.16" y="323.42" width="28.66" height="7.50" fill="#C5E6F0"/>
<rect x="390.82" y="323.42" width="28.66" height="7.50" fill="#C5E6F0"/>
<rect x="419.48" y="323.42" width="28.66" height="7.50" fill="#C5E6F0"/>
<rect x="448.14" y="323.42" width="28.66" height="7.50" fill="#C5E6F0"/>
<rect x="333.50" y="330.92" width="28.66" height="7.50" fill="#C5E6F0"/>
<rect x="362.16" y="330.92" width="28.66" height="7.50" fill="#C5E6F0"/>
<rect x="390.82" y="330.92" width="28.66" height="7.50" fill="#B20428"/>
<rect x="419.48" y="330.92" width="28.66" height="7.50" fill="#C5E6F0"/>
<rect x="448.14" y="330.92" width="28.66" height="7.50" fill="#C5E6F0"/>
<rect x="333.50" y="338.43" width="28.66" height="7.50" fill="#C5E6F0"/>
<rect x="362.16" y="338.43" width="28.66" height="7.50" fill="#C5E6F0"/>
<rect x="390.82" y="338.43" width="28.66" height="7.50" fill="#B20428"/>
<rect x="419.48" y="338.43" width="28.66" height="7.50" fill="#C5E6F0"/>
<rect x="448.14" y="338.43" width="28.66" height="7.50" fill="#C5E6F0"/>
<rect x="333.50" y="345.93" width="28.66" height="7.50" fill="#FDAE61"/>
<rect x="362.16" y="345.93" width="28.66" height="7.50" fill="#FEC778"/>
<rect x="390.82" y="345.93" width="28.66" height="7.50" fill="#FDAE61"/>
<rect x="419.48" y="345.93" width="28.66" height="7.50" fill="#333C98"/>
<rect x="448.14" y="345.93" width="28.66" height="7.50" fill="#F0F9DC"/>
<rect x="333.50" y="353.44" width="28.66" height="7.50" fill="#F46D43"/>
<rect x="362.16" y="353.44" width="28.66" height="7.50" fill="#74ADD1"/>
<rect x="390.82" y="353.44" width="28.66" height="7.50" fill="#F7804C"/>
<rect x="419.48" y="353.44" width="28.66" height="7.50" fill="#74ADD1"/>
<rect x="448.14" y="353.44" width="28.66" height="7.50" fill="#D5EEF5"/>
<rect x="333.50" y="360.94" width="28.66" height="7.50" fill="#394FA1"/>
<rect x="362.16" y="360.94" width="28.66" height="7.50" fill="#FDC274"/>
<rect x="390.82" y="360.94" width="28.66" height="7.50" fill="#D0EBF4"/>
<rect x="419.48" y="360.94" width="28.66" height="7.50" fill="#FDC274"/>
<rect x="448.14" y="360.94" width="28.66" height="7.50" fill="#F7804C"/>
<rect x="333.50" y="368.44" width="28.66" height="7.50" fill="#DBF0F6"/>
<rect x="362.16" y="368.44" width="28.66" height="7.50" fill="#C5E6F0"/>
<rect x="390.82" y="368.44" width="28.66" height="7.50" fill="#C5E6F0"/>
<rect x="419.48" y="368.44" width="28.66" height="7.50" fill="#B20428"/>
<rect x="448.14" y="368.44" width="28.66" height="7.50" fill="#C5E6F0"/>
<rect x="333.50" y="375.95" width="28.66" height="7.50" fill="#C5E6F0"/>
<rect x="362.16" y="375.95" width="28.66" height="7.50" fill="#C5E6F0"/>
<rect x="390.82" y="375.95" width="28.66" height="7.50" fill="#C5E6F0"/>
<rect x="419.48" y="375.95" width="28.66" height="7.50" fill="#B20428"/>
<rect x="448.14" y="375.95" width="28.66" height="7.50" fill="#C5E6F0"/>
<rect x="333.50" y="383.45" width="28.66" height="7.50" fill="#C5E6F0"/>
<rect x="362.16" y="383.45" width="28.66" height="7.50" fill="#C5E6F0"/>
<rect x="390.82" y="383.45" width="28.66" height="7.50" fill="#C5E6F0"/>
<rect x="419.48" y="383.45" width="28.66" height="7.50" fill="#B20428"/>
<rect x="448.14" y="383.45" width="28.66" height="7.50" fill="#C5E6F0"/>
<rect x="333.50" y="390.96" width="28.66" height="7.50" fill="#C5E6F0"/>
<rect x="362.16" y="390.96" width="28.66" height="7.50" fill="#C5E6F0"/>
<rect x="390.82" y="390.96" width="28.66" height="7.50" fill="#C5E6F0"/>
<rect x="419.48" y="390.96" width="28.66" height="7.50" fill="#C5E6F0"/>
<rect x="448.14" y="390.96" width="28.66" height="7.50" fill="#B20428"/>
<rect x="333.50" y="398.46" width="28.66" height="7.50" fill="#FEE090"/>
<rect x="362.16" y="398.46" width="28.66" height="7.50" fill="#FFF9B6"/>
<rect x="390.82" y="398.46" width="28.66" height="7.50" fill="#4A7BB7"/>
<rect x="419.48" y="398.46" width="28.66" height="7.50" fill="#D5EEF5"/>
<rect x="448.14" y="398.46" width="28.66" height="7.50" fill="#E14534"/>
<rect x="333.50" y="405.96" width="28.66" height="7.50" fill="#FEE090"/>
<rect x="362.16" y="405.96" width="28.66" height="7.50" fill="#FDAE61"/>
<rect x="390.82" y="405.96" width="28.66" height="7.50" fill="#4E80BA"/>
<rect x="419.48" y="405.96" width="28.66" height="7.50" fill="#90C3DD"/>
<rect x="448.14" y="405.96" width="28.66" height="7.50" fill="#EE603E"/>
<rect x="333.50" y="413.47" width="28.66" height="7.50" fill="#FFF3AC"/>
<rect x="362.16" y="413.47" width="28.66" height="7.50" fill="#B20428"/>
<rect x="390.82" y="413.47" width="28.66" height="7.50" fill="#ABD9E9"/>
<rect x="419.48" y="413.47" width="28.66" height="7.50" fill="#ABD9E9"/>
<rect x="448.14" y="413.47" width="28.66" height="7.50" fill="#ABD9E9"/>
<rect x="333.50" y="420.97" width="28.66" height="7.50" fill="#FEE090"/>
<rect x="362.16" y="420.97" width="28.66" height="7.50" fill="#C01329"/>
<rect x="390.82" y="420.97" width="28.66" height="7.50" fill="#ABD9E9"/>
<rect x="419.48" y="420.97" width="28.66" height="7.50" fill="#ABD9E9"/>
<rect x="448.14" y="420.97" width="28.66" height="7.50" fill="#ABD9E9"/>
<rect x="333.50" y="428.48" width="28.66" height="7.50" fill="#D0EBF4"/>
<rect x="362.16" y="428.48" width="28.66" height="7.50" fill="#B20428"/>
<rect x="390.82" y="428.48" width="28.66" height="7.50" fill="#BBE1EE"/>
<rect x="419.48" y="428.48" width="28.66" height="7.50" fill="#9ACCE2"/>
<rect x="448.14" y="428.48" width="28.66" height="7.50" fill="#F0F9DC"/>
<rect x="333.50" y="435.98" width="28.66" height="7.50" fill="#C5E6F0"/>
<rect x="362.16" y="435.98" width="28.66" height="7.50" fill="#B20428"/>
<rect x="390.82" y="435.98" width="28.66" height="7.50" fill="#C5E6F0"/>
<rect x="419.48" y="435.98" width="28.66" height="7.50" fill="#C5E6F0"/>
<rect x="448.14" y="435.98" width="28.66" height="7.50" fill="#C5E6F0"/>
<rect x="333.50" y="443.48" width="28.66" height="7.50" fill="#C5E6F0"/>
<rect x="362.16" y="443.48" width="28.66" height="7.50" fill="#B20428"/>
<rect x="390.82" y="443.48" width="28.66" height="7.50" fill="#C5E6F0"/>
<rect x="419.48" y="443.48" width="28.66" height="7.50" fill="#C5E6F0"/>
<rect x="448.14" y="443.48" width="28.66" height="7.50" fill="#C5E6F0"/>
<rect x="333.50" y="450.99" width="28.66" height="7.50" fill="#C5E6F0"/>
<rect x="362.16" y="450.99" width="28.66" height="7.50" fill="#B20428"/>
<rect x="390.82" y="450.99" width="28.66" height="7.50" fill="#C5E6F0"/>
<rect x="419.48" y="450.99" width="28.66" height="7.50" fill="#C5E6F0"/>
<rect x="448.14" y="450.99" width="28.66" height="7.50" fill="#C5E6F0"/>
<rect x="333.50" y="458.49" width="28.66" height="7.50" fill="#E75239"/>
<rect x="362.16" y="458.49" width="28.66" height="7.50" fill="#F8874F"/>
<rect x="390.82" y="458.49" width="28.66" height="7.50" fill="#95C7DF"/>
<rect x="419.48" y="458.49" width="28.66" height="7.50" fill="#95C7DF"/>
<rect x="448.14" y="458.49" width="28.66" height="7.50" fill="#A6D5E7"/>
<rect x="333.50" y="466.00" width="28.66" height="7.50" fill="#FEC778"/>
<rect x="362.16" y="466.00" width="28.66" height="7.50" fill="#EE603E"/>
<rect x="390.82" y="466.00" width="28.66" height="7.50" fill="#4E80BA"/>
<rect x="419.48" y="466.00" width="28.66" height="7.50" fill="#FEE090"/>
<rect x="448.14" y="466.00" width="28.66" height="7.50" fill="#95C7DF"/>
<line x1="333.50" y1="293.40" x2="476.80" y2="293.40" stroke="#9a9a9a" stroke-width="0.3"/>
<line x1="333.50" y1="300.91" x2="476.80" y2="300.91" stroke="#9a9a9a" stroke-width="0.3"/>
<line x1="333.50" y1="308.41" x2="476.80" y2="308.41" stroke="#9a9a9a" stroke-width="0.3"/>
<line x1="333.50" y1="315.92" x2="476.80" y2="315.92" stroke="#9a9a9a" stroke-width="0.3"/>
<line x1="333.50" y1="323.42" x2="476.80" y2="323.42" stroke="#9a9a9a" stroke-width="0.3"/>
<line x1="333.50" y1="330.92" x2="476.80" y2="330.92" stroke="#9a9a9a" stroke-width="0.3"/>
<line x1="333.50" y1="338.43" x2="476.80" y2="338.43" stroke="#9a9a9a" stroke-width="0.3"/>
<line x1="333.50" y1="345.93" x2="476.80" y2="345.93" stroke="#9a9a9a" stroke-width="0.3"/>
<line x1="333.50" y1="353.44" x2="476.80" y2="353.44" stroke="#9a9a9a" stroke-width="0.3"/>
<line x1="333.50" y1="360.94" x2="476.80" y2="360.94" stroke="#9a9a9a" stroke-width="0.3"/>
<line x1="333.50" y1="368.44" x2="476.80" y2="368.44" stroke="#9a9a9a" stroke-width="0.3"/>
<line x1="333.50" y1="375.95" x2="476.80" y2="375.95" stroke="#9a9a9a" stroke-width="0.3"/>
<line x1="333.50" y1="383.45" x2="476.80" y2="383.45" stroke="#9a9a9a" stroke-width="0.3"/>
<line x1="333.50" y1="390.96" x2="476.80" y2="390.96" stroke="#9a9a9a" stroke-width="0.3"/>
<line x1="333.50" y1="398.46" x2="476.80" y2="398.46" stroke="#9a9a9a" stroke-width="0.3"/>
<line x1="333.50" y1="405.96" x2="476.80" y2="405.96" stroke="#9a9a9a" stroke-width="0.3"/>
<line x1="333.50" y1="413.47" x2="476.80" y2="413.47" stroke="#9a9a9a" stroke-width="0.3"/>
<line x1="333.50" y1="420.97" x2="476.80" y2="420.97" stroke="#9a9a9a" stroke-width="0.3"/>
<line x1="333.50" y1="428.48" x2="476.80" y2="428.48" stroke="#9a9a9a" stroke-width="0.3"/>
<line x1="333.50" y1="435.98" x2="476.80" y2="435.98" stroke="#9a9a9a" stroke-width="0.3"/>
<line x1="333.50" y1="443.48" x2="476.80" y2="443.48" stroke="#9a9a9a" stroke-width="0.3"/>
<line x1="333.50" y1="450.99" x2="476.80" y2="450.99" stroke="#9a9a9a" stroke-width="0.3"/>
<line x1="333.50" y1="458.49" x2="476.80" y2="458.49" stroke="#9a9a9a" stroke-width="0.3"/>
<line x1="333.50" y1="466.00" x2="476.80" y2="466.00" stroke="#9a9a9a" stroke-width="0.3"/>
<line x1="362.16" y1="285.90" x2="362.16" y2="473.50" stroke="#9a9a9a" stroke-width="0.3"/>
<line x1="390.82" y1="285.90" x2="390.82" y2="473.50" stroke="#9a9a9a" stroke-width="0.3"/>
<line x1="419.48" y1="285.90" x2="419.48" y2="473.50" stroke="#9a9a9a" stroke-width="0.3"/>
<line x1="448.14" y1="285.90" x2="448.14" y2="473.50" stroke="#9a9a9a" stroke-width="0.3"/>
<text transform="translate(478.30,291.24) scale(0.85,1)" font-size="3.882" text-anchor="start" font-weight="normal" fill="#2e2e2e" stroke="#2e2e2e" stroke-width="0.11">elemol</text>
<text transform="translate(478.30,298.74) scale(0.85,1)" font-size="3.882" text-anchor="start" font-weight="normal" fill="#2e2e2e" stroke="#2e2e2e" stroke-width="0.11">(-)-alpha-cubebene</text>
<text transform="translate(478.30,306.25) scale(0.85,1)" font-size="3.882" text-anchor="start" font-weight="normal" fill="#2e2e2e" stroke="#2e2e2e" stroke-width="0.11">(-)-beta-funebrene</text>
<text transform="translate(478.30,313.75) scale(0.85,1)" font-size="3.882" text-anchor="start" font-weight="normal" fill="#2e2e2e" stroke="#2e2e2e" stroke-width="0.11">nerolidol</text>
<text transform="translate(478.30,321.25) scale(0.85,1)" font-size="3.882" text-anchor="start" font-weight="normal" fill="#2e2e2e" stroke="#2e2e2e" stroke-width="0.11">(-)-alpha-cedrene</text>
<text transform="translate(478.30,328.76) scale(0.85,1)" font-size="3.882" text-anchor="start" font-weight="normal" fill="#2e2e2e" stroke="#2e2e2e" stroke-width="0.11">ledol</text>
<text transform="translate(478.30,336.26) scale(0.85,1)" font-size="3.882" text-anchor="start" font-weight="normal" fill="#2e2e2e" stroke="#2e2e2e" stroke-width="0.11">(E)-2-octenal</text>
<text transform="translate(478.30,343.77) scale(0.85,1)" font-size="3.882" text-anchor="start" font-weight="normal" fill="#2e2e2e" stroke="#2e2e2e" stroke-width="0.11">4(15),5,10(14)-germacratrien-1-ol</text>
<text transform="translate(478.30,351.27) scale(0.85,1)" font-size="3.882" text-anchor="start" font-weight="normal" fill="#2e2e2e" stroke="#2e2e2e" stroke-width="0.11">terpinen-4-ol</text>
<text transform="translate(478.30,358.77) scale(0.85,1)" font-size="3.882" text-anchor="start" font-weight="normal" fill="#2e2e2e" stroke="#2e2e2e" stroke-width="0.11">guaiene</text>
<text transform="translate(478.30,366.28) scale(0.85,1)" font-size="3.882" text-anchor="start" font-weight="normal" fill="#2e2e2e" stroke="#2e2e2e" stroke-width="0.11">curcumol</text>
<text transform="translate(478.30,373.78) scale(0.85,1)" font-size="3.882" text-anchor="start" font-weight="normal" fill="#2e2e2e" stroke="#2e2e2e" stroke-width="0.11">cedrenol</text>
<text transform="translate(478.30,381.29) scale(0.85,1)" font-size="3.882" text-anchor="start" font-weight="normal" fill="#2e2e2e" stroke="#2e2e2e" stroke-width="0.11">(+)-cedrol</text>
<text transform="translate(478.30,388.79) scale(0.85,1)" font-size="3.882" text-anchor="start" font-weight="normal" fill="#2e2e2e" stroke="#2e2e2e" stroke-width="0.11">dl-menthol</text>
<text transform="translate(478.30,396.29) scale(0.85,1)" font-size="3.882" text-anchor="start" font-weight="normal" fill="#2e2e2e" stroke="#2e2e2e" stroke-width="0.11">geranylacetone</text>
<text transform="translate(478.30,403.80) scale(0.85,1)" font-size="3.882" text-anchor="start" font-weight="normal" fill="#2e2e2e" stroke="#2e2e2e" stroke-width="0.11">α-bulnesene</text>
<text transform="translate(478.30,411.30) scale(0.85,1)" font-size="3.882" text-anchor="start" font-weight="normal" fill="#2e2e2e" stroke="#2e2e2e" stroke-width="0.11">fitone</text>
<text transform="translate(478.30,418.81) scale(0.85,1)" font-size="3.882" text-anchor="start" font-weight="normal" fill="#2e2e2e" stroke="#2e2e2e" stroke-width="0.11">cadinene</text>
<text transform="translate(478.30,426.31) scale(0.85,1)" font-size="3.882" text-anchor="start" font-weight="normal" fill="#2e2e2e" stroke="#2e2e2e" stroke-width="0.11">(+)-delta-cadinene</text>
<text transform="translate(478.30,433.81) scale(0.85,1)" font-size="3.882" text-anchor="start" font-weight="normal" fill="#2e2e2e" stroke="#2e2e2e" stroke-width="0.11">linalool</text>
<text transform="translate(478.30,441.32) scale(0.85,1)" font-size="3.882" text-anchor="start" font-weight="normal" fill="#2e2e2e" stroke="#2e2e2e" stroke-width="0.11">β-cedrene</text>
<text transform="translate(478.30,448.82) scale(0.85,1)" font-size="3.882" text-anchor="start" font-weight="normal" fill="#2e2e2e" stroke="#2e2e2e" stroke-width="0.11">(-)-alpha-terpineol</text>
<text transform="translate(478.30,456.33) scale(0.85,1)" font-size="3.882" text-anchor="start" font-weight="normal" fill="#2e2e2e" stroke="#2e2e2e" stroke-width="0.11">α-cadinene</text>
<text transform="translate(478.30,463.83) scale(0.85,1)" font-size="3.882" text-anchor="start" font-weight="normal" fill="#2e2e2e" stroke="#2e2e2e" stroke-width="0.11">beta-elemene</text>
<text transform="translate(478.30,471.33) scale(0.85,1)" font-size="3.882" text-anchor="start" font-weight="normal" fill="#2e2e2e" stroke="#2e2e2e" stroke-width="0.11">beta-eudesmol</text>
<text transform="translate(347.83,477.60) scale(0.85,1)" font-size="3.882" text-anchor="middle" font-weight="normal" fill="#2e2e2e" stroke="#2e2e2e" stroke-width="0.11">Sorghum</text>
<text transform="translate(376.49,477.60) scale(0.85,1)" font-size="3.882" text-anchor="middle" font-weight="normal" fill="#2e2e2e" stroke="#2e2e2e" stroke-width="0.11">Rice</text>
<text transform="translate(405.15,477.60) scale(0.85,1)" font-size="3.882" text-anchor="middle" font-weight="normal" fill="#2e2e2e" stroke="#2e2e2e" stroke-width="0.11">Corn</text>
<text transform="translate(433.81,477.60) scale(0.85,1)" font-size="3.882" text-anchor="middle" font-weight="normal" fill="#2e2e2e" stroke="#2e2e2e" stroke-width="0.11">Wheat</text>
<text transform="translate(462.47,477.60) scale(0.85,1)" font-size="3.882" text-anchor="middle" font-weight="normal" fill="#2e2e2e" stroke="#2e2e2e" stroke-width="0.11">Sticky-rice</text>
<defs><linearGradient id="gd" x1="0" y1="0" x2="0" y2="1"><stop offset="0.00" stop-color="#B20428"/><stop offset="0.10" stop-color="#D42A2A"/><stop offset="0.20" stop-color="#F46D43"/><stop offset="0.30" stop-color="#FDAE61"/><stop offset="0.40" stop-color="#FEE090"/><stop offset="0.50" stop-color="#FFFFBF"/><stop offset="0.60" stop-color="#E0F3F8"/><stop offset="0.70" stop-color="#ABD9E9"/><stop offset="0.80" stop-color="#74ADD1"/><stop offset="0.90" stop-color="#4575B4"/><stop offset="1.00" stop-color="#313695"/></linearGradient></defs>
<rect x="530.0" y="285.8" width="3.9" height="58.39999999999998" fill="url(#gd)"/>
<text x="535.40" y="293.00" font-size="4.2" text-anchor="start" font-weight="normal" fill="#4a4a4a" stroke="#4a4a4a" stroke-width="0.06">1.5</text>
<text x="535.40" y="301.37" font-size="4.2" text-anchor="start" font-weight="normal" fill="#4a4a4a" stroke="#4a4a4a" stroke-width="0.06">1</text>
<text x="535.40" y="309.74" font-size="4.2" text-anchor="start" font-weight="normal" fill="#4a4a4a" stroke="#4a4a4a" stroke-width="0.06">0.5</text>
<text x="535.40" y="318.10" font-size="4.2" text-anchor="start" font-weight="normal" fill="#4a4a4a" stroke="#4a4a4a" stroke-width="0.06">0</text>
<text x="535.40" y="326.47" font-size="4.2" text-anchor="start" font-weight="normal" fill="#4a4a4a" stroke="#4a4a4a" stroke-width="0.06">−0.5</text>
<text x="535.40" y="334.84" font-size="4.2" text-anchor="start" font-weight="normal" fill="#4a4a4a" stroke="#4a4a4a" stroke-width="0.06">−1</text>
<text x="535.40" y="343.21" font-size="4.2" text-anchor="start" font-weight="normal" fill="#4a4a4a" stroke="#4a4a4a" stroke-width="0.06">−1.5</text>
<text x="297.20" y="262.00" font-size="16" text-anchor="start" font-weight="bold" fill="#000">d</text>
<line x1="433.81" y1="271.20" x2="433.81" y2="285.90" stroke="#858585" stroke-width="0.65"/>
<line x1="462.47" y1="271.20" x2="462.47" y2="285.90" stroke="#858585" stroke-width="0.65"/>
<line x1="433.81" y1="271.20" x2="462.47" y2="271.20" stroke="#858585" stroke-width="0.65"/>
<line x1="405.15" y1="270.00" x2="405.15" y2="285.90" stroke="#858585" stroke-width="0.65"/>
<line x1="448.14" y1="270.00" x2="448.14" y2="271.20" stroke="#858585" stroke-width="0.65"/>
<line x1="405.15" y1="270.00" x2="448.14" y2="270.00" stroke="#858585" stroke-width="0.65"/>
<line x1="376.49" y1="266.30" x2="376.49" y2="285.90" stroke="#858585" stroke-width="0.65"/>
<line x1="426.64" y1="266.30" x2="426.64" y2="270.00" stroke="#858585" stroke-width="0.65"/>
<line x1="376.49" y1="266.30" x2="426.64" y2="266.30" stroke="#858585" stroke-width="0.65"/>
<line x1="347.83" y1="265.50" x2="347.83" y2="285.90" stroke="#858585" stroke-width="0.65"/>
<line x1="401.57" y1="265.50" x2="401.57" y2="266.30" stroke="#858585" stroke-width="0.65"/>
<line x1="347.83" y1="265.50" x2="401.57" y2="265.50" stroke="#858585" stroke-width="0.65"/>
<line x1="326.60" y1="289.65" x2="333.50" y2="289.65" stroke="#858585" stroke-width="0.65"/>
<line x1="326.60" y1="312.40" x2="333.50" y2="312.40" stroke="#858585" stroke-width="0.65"/>
<line x1="326.60" y1="289.65" x2="326.60" y2="312.40" stroke="#858585" stroke-width="0.65"/>
<line x1="325.00" y1="349.68" x2="333.50" y2="349.68" stroke="#858585" stroke-width="0.65"/>
<line x1="325.00" y1="357.19" x2="333.50" y2="357.19" stroke="#858585" stroke-width="0.65"/>
<line x1="325.00" y1="349.68" x2="325.00" y2="357.19" stroke="#858585" stroke-width="0.65"/>
<line x1="322.40" y1="338.65" x2="333.50" y2="338.65" stroke="#858585" stroke-width="0.65"/>
<line x1="322.40" y1="353.44" x2="325.00" y2="353.44" stroke="#858585" stroke-width="0.65"/>
<line x1="322.40" y1="338.65" x2="322.40" y2="353.44" stroke="#858585" stroke-width="0.65"/>
<line x1="317.10" y1="301.03" x2="326.60" y2="301.03" stroke="#858585" stroke-width="0.65"/>
<line x1="317.10" y1="346.04" x2="322.40" y2="346.04" stroke="#858585" stroke-width="0.65"/>
<line x1="317.10" y1="301.03" x2="317.10" y2="346.04" stroke="#858585" stroke-width="0.65"/>
<line x1="332.80" y1="372.20" x2="333.50" y2="372.20" stroke="#858585" stroke-width="0.65"/>
<line x1="332.80" y1="383.55" x2="333.50" y2="383.55" stroke="#858585" stroke-width="0.65"/>
<line x1="332.80" y1="372.20" x2="332.80" y2="383.55" stroke="#858585" stroke-width="0.65"/>
<line x1="320.90" y1="364.69" x2="333.50" y2="364.69" stroke="#858585" stroke-width="0.65"/>
<line x1="320.90" y1="377.87" x2="332.80" y2="377.87" stroke="#858585" stroke-width="0.65"/>
<line x1="320.90" y1="364.69" x2="320.90" y2="377.87" stroke="#858585" stroke-width="0.65"/>
<line x1="330.20" y1="402.21" x2="333.50" y2="402.21" stroke="#858585" stroke-width="0.65"/>
<line x1="330.20" y1="409.72" x2="333.50" y2="409.72" stroke="#858585" stroke-width="0.65"/>
<line x1="330.20" y1="402.21" x2="330.20" y2="409.72" stroke="#858585" stroke-width="0.65"/>
<line x1="325.40" y1="394.71" x2="333.50" y2="394.71" stroke="#858585" stroke-width="0.65"/>
<line x1="325.40" y1="405.96" x2="330.20" y2="405.96" stroke="#858585" stroke-width="0.65"/>
<line x1="325.40" y1="394.71" x2="325.40" y2="405.96" stroke="#858585" stroke-width="0.65"/>
<line x1="332.00" y1="417.22" x2="333.50" y2="417.22" stroke="#858585" stroke-width="0.65"/>
<line x1="332.00" y1="424.72" x2="333.50" y2="424.72" stroke="#858585" stroke-width="0.65"/>
<line x1="332.00" y1="417.22" x2="332.00" y2="424.72" stroke="#858585" stroke-width="0.65"/>
<line x1="332.20" y1="432.23" x2="333.50" y2="432.23" stroke="#858585" stroke-width="0.65"/>
<line x1="332.20" y1="447.30" x2="333.50" y2="447.30" stroke="#858585" stroke-width="0.65"/>
<line x1="332.20" y1="432.23" x2="332.20" y2="447.30" stroke="#858585" stroke-width="0.65"/>
<line x1="328.70" y1="420.97" x2="332.00" y2="420.97" stroke="#858585" stroke-width="0.65"/>
<line x1="328.70" y1="439.76" x2="332.20" y2="439.76" stroke="#858585" stroke-width="0.65"/>
<line x1="328.70" y1="420.97" x2="328.70" y2="439.76" stroke="#858585" stroke-width="0.65"/>
<line x1="326.40" y1="462.24" x2="333.50" y2="462.24" stroke="#858585" stroke-width="0.65"/>
<line x1="326.40" y1="469.75" x2="333.50" y2="469.75" stroke="#858585" stroke-width="0.65"/>
<line x1="326.40" y1="462.24" x2="326.40" y2="469.75" stroke="#858585" stroke-width="0.65"/>
<line x1="323.50" y1="430.37" x2="328.70" y2="430.37" stroke="#858585" stroke-width="0.65"/>
<line x1="323.50" y1="466.00" x2="326.40" y2="466.00" stroke="#858585" stroke-width="0.65"/>
<line x1="323.50" y1="430.37" x2="323.50" y2="466.00" stroke="#858585" stroke-width="0.65"/>
<line x1="316.20" y1="400.34" x2="325.40" y2="400.34" stroke="#858585" stroke-width="0.65"/>
<line x1="316.20" y1="448.18" x2="323.50" y2="448.18" stroke="#858585" stroke-width="0.65"/>
<line x1="316.20" y1="400.34" x2="316.20" y2="448.18" stroke="#858585" stroke-width="0.65"/>
<line x1="315.80" y1="371.28" x2="320.90" y2="371.28" stroke="#858585" stroke-width="0.65"/>
<line x1="315.80" y1="424.26" x2="316.20" y2="424.26" stroke="#858585" stroke-width="0.65"/>
<line x1="315.80" y1="371.28" x2="315.80" y2="424.26" stroke="#858585" stroke-width="0.65"/>
<line x1="313.40" y1="323.53" x2="317.10" y2="323.53" stroke="#858585" stroke-width="0.65"/>
<line x1="313.40" y1="397.77" x2="315.80" y2="397.77" stroke="#858585" stroke-width="0.65"/>
<line x1="313.40" y1="323.53" x2="313.40" y2="397.77" stroke="#858585" stroke-width="0.65"/>
</svg></body></html>
